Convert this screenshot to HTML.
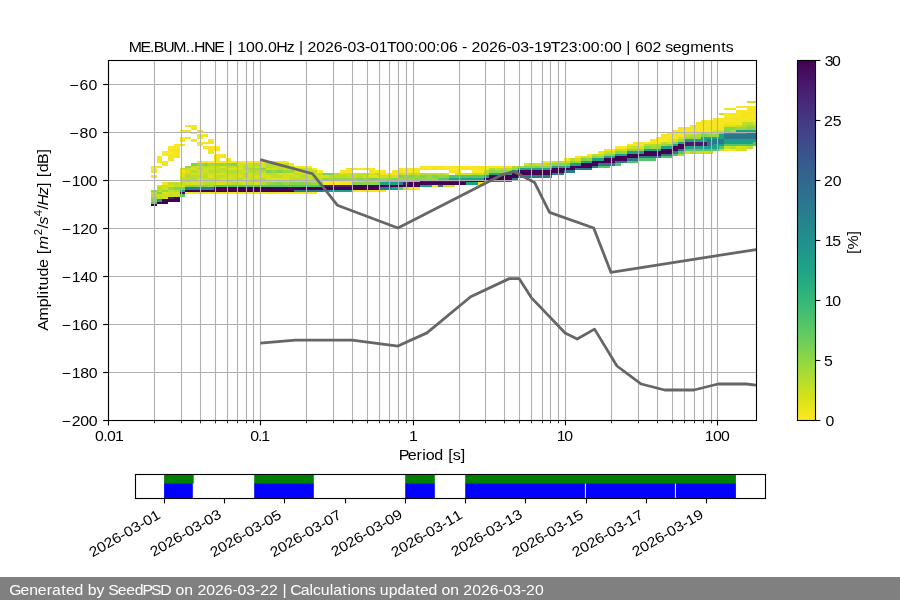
<!DOCTYPE html><html><head><meta charset="utf-8"><style>html,body{margin:0;padding:0;background:#fff;width:900px;height:600px;overflow:hidden}svg{display:block;will-change:transform}text{font-family:"Liberation Sans", sans-serif;fill:#000}</style></head><body>
<svg width="900" height="600" viewBox="0 0 900 600">
<rect x="0" y="0" width="900" height="600" fill="#fff"/>
<g shape-rendering="crispEdges">
<rect x="151" y="166" width="6" height="2" fill="#f8e621"/>
<rect x="151" y="168" width="6" height="2" fill="#fbe723"/>
<rect x="151" y="170" width="6" height="3" fill="#f4e61e"/>
<rect x="151" y="175" width="6" height="3" fill="#f6e620"/>
<rect x="151" y="190" width="6" height="2" fill="#8ed645"/>
<rect x="151" y="192" width="6" height="2" fill="#c0df25"/>
<rect x="151" y="194" width="6" height="3" fill="#bddf26"/>
<rect x="151" y="197" width="6" height="2" fill="#98d83e"/>
<rect x="151" y="199" width="6" height="3" fill="#86d549"/>
<rect x="151" y="202" width="6" height="2" fill="#54c568"/>
<rect x="151" y="204" width="6" height="2" fill="#440154"/>
<rect x="157" y="156" width="5" height="2" fill="#f6e620"/>
<rect x="157" y="158" width="5" height="3" fill="#f4e61e"/>
<rect x="157" y="161" width="5" height="2" fill="#f4e61e"/>
<rect x="157" y="166" width="5" height="2" fill="#f8e621"/>
<rect x="157" y="185" width="5" height="2" fill="#cde11d"/>
<rect x="157" y="187" width="5" height="3" fill="#bade28"/>
<rect x="157" y="190" width="5" height="2" fill="#c2df23"/>
<rect x="157" y="192" width="5" height="2" fill="#7fd34e"/>
<rect x="157" y="194" width="5" height="3" fill="#c8e020"/>
<rect x="157" y="197" width="5" height="2" fill="#c0df25"/>
<rect x="157" y="199" width="5" height="3" fill="#1fa188"/>
<rect x="157" y="202" width="5" height="2" fill="#440154"/>
<rect x="162" y="151" width="6" height="3" fill="#fbe723"/>
<rect x="162" y="154" width="6" height="2" fill="#fbe723"/>
<rect x="162" y="161" width="6" height="2" fill="#f4e61e"/>
<rect x="162" y="163" width="6" height="3" fill="#f1e51d"/>
<rect x="162" y="182" width="6" height="3" fill="#f4e61e"/>
<rect x="162" y="185" width="6" height="2" fill="#cde11d"/>
<rect x="162" y="187" width="6" height="3" fill="#cae11f"/>
<rect x="162" y="190" width="6" height="2" fill="#98d83e"/>
<rect x="162" y="192" width="6" height="2" fill="#dae319"/>
<rect x="162" y="194" width="6" height="3" fill="#cde11d"/>
<rect x="162" y="197" width="6" height="2" fill="#d8e219"/>
<rect x="162" y="199" width="6" height="3" fill="#440154"/>
<rect x="162" y="202" width="6" height="2" fill="#440154"/>
<rect x="168" y="146" width="6" height="3" fill="#fbe723"/>
<rect x="168" y="149" width="6" height="2" fill="#f6e620"/>
<rect x="168" y="151" width="6" height="3" fill="#fbe723"/>
<rect x="168" y="154" width="6" height="2" fill="#f6e620"/>
<rect x="168" y="156" width="6" height="2" fill="#f6e620"/>
<rect x="168" y="158" width="6" height="3" fill="#f1e51d"/>
<rect x="168" y="182" width="6" height="3" fill="#c8e020"/>
<rect x="168" y="185" width="6" height="2" fill="#d5e21a"/>
<rect x="168" y="187" width="6" height="3" fill="#95d840"/>
<rect x="168" y="190" width="6" height="2" fill="#c0df25"/>
<rect x="168" y="192" width="6" height="2" fill="#d5e21a"/>
<rect x="168" y="194" width="6" height="3" fill="#cae11f"/>
<rect x="168" y="197" width="6" height="2" fill="#481a6c"/>
<rect x="168" y="199" width="6" height="3" fill="#440154"/>
<rect x="174" y="144" width="6" height="2" fill="#fbe723"/>
<rect x="174" y="146" width="6" height="3" fill="#fbe723"/>
<rect x="174" y="149" width="6" height="2" fill="#f1e51d"/>
<rect x="174" y="151" width="6" height="3" fill="#f1e51d"/>
<rect x="174" y="154" width="6" height="2" fill="#f8e621"/>
<rect x="174" y="156" width="6" height="2" fill="#f1e51d"/>
<rect x="174" y="182" width="6" height="3" fill="#bddf26"/>
<rect x="174" y="185" width="6" height="2" fill="#c2df23"/>
<rect x="174" y="187" width="6" height="3" fill="#81d34d"/>
<rect x="174" y="190" width="6" height="2" fill="#b2dd2d"/>
<rect x="174" y="192" width="6" height="2" fill="#d2e21b"/>
<rect x="174" y="194" width="6" height="3" fill="#c8e020"/>
<rect x="174" y="197" width="6" height="2" fill="#440154"/>
<rect x="174" y="199" width="6" height="3" fill="#440154"/>
<rect x="180" y="130" width="5" height="2" fill="#f1e51d"/>
<rect x="180" y="137" width="5" height="2" fill="#fbe723"/>
<rect x="180" y="139" width="5" height="3" fill="#f6e620"/>
<rect x="180" y="144" width="5" height="2" fill="#f4e61e"/>
<rect x="180" y="168" width="5" height="2" fill="#c8e020"/>
<rect x="180" y="170" width="5" height="3" fill="#f6e620"/>
<rect x="180" y="173" width="5" height="2" fill="#dde318"/>
<rect x="180" y="175" width="5" height="3" fill="#dde318"/>
<rect x="180" y="178" width="5" height="2" fill="#c2df23"/>
<rect x="180" y="180" width="5" height="2" fill="#d2e21b"/>
<rect x="180" y="182" width="5" height="3" fill="#c8e020"/>
<rect x="180" y="185" width="5" height="2" fill="#d5e21a"/>
<rect x="180" y="187" width="5" height="3" fill="#81d34d"/>
<rect x="180" y="190" width="5" height="2" fill="#1fa188"/>
<rect x="180" y="192" width="5" height="2" fill="#440154"/>
<rect x="180" y="194" width="5" height="3" fill="#54c568"/>
<rect x="185" y="125" width="6" height="2" fill="#f1e51d"/>
<rect x="185" y="130" width="6" height="2" fill="#f6e620"/>
<rect x="185" y="137" width="6" height="2" fill="#f1e51d"/>
<rect x="185" y="166" width="6" height="2" fill="#90d743"/>
<rect x="185" y="168" width="6" height="2" fill="#c8e020"/>
<rect x="185" y="170" width="6" height="3" fill="#d8e219"/>
<rect x="185" y="173" width="6" height="2" fill="#c2df23"/>
<rect x="185" y="175" width="6" height="3" fill="#b0dd2f"/>
<rect x="185" y="178" width="6" height="2" fill="#c2df23"/>
<rect x="185" y="180" width="6" height="2" fill="#b5de2b"/>
<rect x="185" y="182" width="6" height="3" fill="#d8e219"/>
<rect x="185" y="185" width="6" height="2" fill="#89d548"/>
<rect x="185" y="187" width="6" height="3" fill="#27808e"/>
<rect x="185" y="190" width="6" height="2" fill="#440154"/>
<rect x="185" y="192" width="6" height="2" fill="#f8e621"/>
<rect x="191" y="125" width="6" height="2" fill="#f6e620"/>
<rect x="191" y="127" width="6" height="3" fill="#f4e61e"/>
<rect x="191" y="132" width="6" height="2" fill="#fbe723"/>
<rect x="191" y="139" width="6" height="3" fill="#f6e620"/>
<rect x="191" y="163" width="6" height="3" fill="#7cd250"/>
<rect x="191" y="166" width="6" height="2" fill="#cde11d"/>
<rect x="191" y="168" width="6" height="2" fill="#dae319"/>
<rect x="191" y="170" width="6" height="3" fill="#b8de29"/>
<rect x="191" y="173" width="6" height="2" fill="#d0e11c"/>
<rect x="191" y="175" width="6" height="3" fill="#b8de29"/>
<rect x="191" y="178" width="6" height="2" fill="#b5de2b"/>
<rect x="191" y="180" width="6" height="2" fill="#c8e020"/>
<rect x="191" y="182" width="6" height="3" fill="#dae319"/>
<rect x="191" y="185" width="6" height="2" fill="#89d548"/>
<rect x="191" y="187" width="6" height="3" fill="#27808e"/>
<rect x="191" y="190" width="6" height="2" fill="#440154"/>
<rect x="191" y="192" width="6" height="2" fill="#f4e61e"/>
<rect x="197" y="130" width="6" height="2" fill="#f1e51d"/>
<rect x="197" y="134" width="6" height="3" fill="#f4e61e"/>
<rect x="197" y="137" width="6" height="2" fill="#f4e61e"/>
<rect x="197" y="142" width="6" height="2" fill="#f4e61e"/>
<rect x="197" y="144" width="6" height="2" fill="#fbe723"/>
<rect x="197" y="161" width="6" height="2" fill="#f4e61e"/>
<rect x="197" y="163" width="6" height="3" fill="#9bd93c"/>
<rect x="197" y="166" width="6" height="2" fill="#c8e020"/>
<rect x="197" y="168" width="6" height="2" fill="#b2dd2d"/>
<rect x="197" y="170" width="6" height="3" fill="#cae11f"/>
<rect x="197" y="173" width="6" height="2" fill="#d8e219"/>
<rect x="197" y="175" width="6" height="3" fill="#b8de29"/>
<rect x="197" y="178" width="6" height="2" fill="#d8e219"/>
<rect x="197" y="180" width="6" height="2" fill="#dde318"/>
<rect x="197" y="182" width="6" height="3" fill="#d8e219"/>
<rect x="197" y="185" width="6" height="2" fill="#98d83e"/>
<rect x="197" y="187" width="6" height="3" fill="#27808e"/>
<rect x="197" y="190" width="6" height="2" fill="#440154"/>
<rect x="197" y="192" width="6" height="2" fill="#f4e61e"/>
<rect x="203" y="134" width="5" height="3" fill="#f4e61e"/>
<rect x="203" y="142" width="5" height="2" fill="#f1e51d"/>
<rect x="203" y="146" width="5" height="3" fill="#f8e621"/>
<rect x="203" y="161" width="5" height="2" fill="#f6e620"/>
<rect x="203" y="163" width="5" height="3" fill="#7fd34e"/>
<rect x="203" y="166" width="5" height="2" fill="#b5de2b"/>
<rect x="203" y="168" width="5" height="2" fill="#d0e11c"/>
<rect x="203" y="170" width="5" height="3" fill="#cae11f"/>
<rect x="203" y="173" width="5" height="2" fill="#bddf26"/>
<rect x="203" y="175" width="5" height="3" fill="#bade28"/>
<rect x="203" y="178" width="5" height="2" fill="#c8e020"/>
<rect x="203" y="180" width="5" height="2" fill="#d8e219"/>
<rect x="203" y="182" width="5" height="3" fill="#b8de29"/>
<rect x="203" y="185" width="5" height="2" fill="#84d44b"/>
<rect x="203" y="187" width="5" height="3" fill="#27808e"/>
<rect x="203" y="190" width="5" height="2" fill="#440154"/>
<rect x="203" y="192" width="5" height="2" fill="#f4e61e"/>
<rect x="208" y="139" width="6" height="3" fill="#fbe723"/>
<rect x="208" y="142" width="6" height="2" fill="#f6e620"/>
<rect x="208" y="146" width="6" height="3" fill="#fbe723"/>
<rect x="208" y="149" width="6" height="2" fill="#f6e620"/>
<rect x="208" y="151" width="6" height="3" fill="#f4e61e"/>
<rect x="208" y="161" width="6" height="2" fill="#fbe723"/>
<rect x="208" y="163" width="6" height="3" fill="#a0da39"/>
<rect x="208" y="166" width="6" height="2" fill="#c0df25"/>
<rect x="208" y="168" width="6" height="2" fill="#cae11f"/>
<rect x="208" y="170" width="6" height="3" fill="#b8de29"/>
<rect x="208" y="173" width="6" height="2" fill="#d0e11c"/>
<rect x="208" y="175" width="6" height="3" fill="#dde318"/>
<rect x="208" y="178" width="6" height="2" fill="#c0df25"/>
<rect x="208" y="180" width="6" height="2" fill="#d2e21b"/>
<rect x="208" y="182" width="6" height="3" fill="#b5de2b"/>
<rect x="208" y="185" width="6" height="2" fill="#9dd93b"/>
<rect x="208" y="187" width="6" height="3" fill="#27808e"/>
<rect x="208" y="190" width="6" height="2" fill="#440154"/>
<rect x="208" y="192" width="6" height="2" fill="#f8e621"/>
<rect x="214" y="146" width="6" height="3" fill="#fbe723"/>
<rect x="214" y="149" width="6" height="2" fill="#f6e620"/>
<rect x="214" y="154" width="6" height="2" fill="#fbe723"/>
<rect x="214" y="156" width="6" height="2" fill="#f8e621"/>
<rect x="214" y="158" width="6" height="3" fill="#f8e621"/>
<rect x="214" y="161" width="6" height="2" fill="#f6e620"/>
<rect x="214" y="163" width="6" height="3" fill="#9dd93b"/>
<rect x="214" y="166" width="6" height="2" fill="#c8e020"/>
<rect x="214" y="168" width="6" height="2" fill="#c8e020"/>
<rect x="214" y="170" width="6" height="3" fill="#bade28"/>
<rect x="214" y="173" width="6" height="2" fill="#d5e21a"/>
<rect x="214" y="175" width="6" height="3" fill="#c5e021"/>
<rect x="214" y="178" width="6" height="2" fill="#c5e021"/>
<rect x="214" y="180" width="6" height="2" fill="#cae11f"/>
<rect x="214" y="182" width="6" height="3" fill="#d5e21a"/>
<rect x="214" y="185" width="6" height="2" fill="#54c568"/>
<rect x="214" y="187" width="6" height="3" fill="#440154"/>
<rect x="214" y="190" width="6" height="2" fill="#440154"/>
<rect x="214" y="192" width="6" height="2" fill="#f1e51d"/>
<rect x="220" y="154" width="6" height="2" fill="#fbe723"/>
<rect x="220" y="156" width="6" height="2" fill="#f1e51d"/>
<rect x="220" y="161" width="6" height="2" fill="#f4e61e"/>
<rect x="220" y="163" width="6" height="3" fill="#95d840"/>
<rect x="220" y="166" width="6" height="2" fill="#d5e21a"/>
<rect x="220" y="168" width="6" height="2" fill="#b2dd2d"/>
<rect x="220" y="170" width="6" height="3" fill="#c0df25"/>
<rect x="220" y="173" width="6" height="2" fill="#d5e21a"/>
<rect x="220" y="175" width="6" height="3" fill="#bddf26"/>
<rect x="220" y="178" width="6" height="2" fill="#d8e219"/>
<rect x="220" y="180" width="6" height="2" fill="#cde11d"/>
<rect x="220" y="182" width="6" height="3" fill="#d0e11c"/>
<rect x="220" y="185" width="6" height="2" fill="#54c568"/>
<rect x="220" y="187" width="6" height="3" fill="#440154"/>
<rect x="220" y="190" width="6" height="2" fill="#440154"/>
<rect x="220" y="192" width="6" height="2" fill="#f4e61e"/>
<rect x="226" y="158" width="5" height="3" fill="#f4e61e"/>
<rect x="226" y="161" width="5" height="2" fill="#f4e61e"/>
<rect x="226" y="163" width="5" height="3" fill="#93d741"/>
<rect x="226" y="166" width="5" height="2" fill="#bddf26"/>
<rect x="226" y="168" width="5" height="2" fill="#dae319"/>
<rect x="226" y="170" width="5" height="3" fill="#bade28"/>
<rect x="226" y="173" width="5" height="2" fill="#bddf26"/>
<rect x="226" y="175" width="5" height="3" fill="#d8e219"/>
<rect x="226" y="178" width="5" height="2" fill="#d0e11c"/>
<rect x="226" y="180" width="5" height="2" fill="#bade28"/>
<rect x="226" y="182" width="5" height="3" fill="#c5e021"/>
<rect x="226" y="185" width="5" height="2" fill="#54c568"/>
<rect x="226" y="187" width="5" height="3" fill="#440154"/>
<rect x="226" y="190" width="5" height="2" fill="#440154"/>
<rect x="226" y="192" width="5" height="2" fill="#f8e621"/>
<rect x="231" y="161" width="6" height="2" fill="#f4e61e"/>
<rect x="231" y="163" width="6" height="3" fill="#7fd34e"/>
<rect x="231" y="166" width="6" height="2" fill="#bddf26"/>
<rect x="231" y="168" width="6" height="2" fill="#dae319"/>
<rect x="231" y="170" width="6" height="3" fill="#b2dd2d"/>
<rect x="231" y="173" width="6" height="2" fill="#c8e020"/>
<rect x="231" y="175" width="6" height="3" fill="#cde11d"/>
<rect x="231" y="178" width="6" height="2" fill="#cae11f"/>
<rect x="231" y="180" width="6" height="2" fill="#cde11d"/>
<rect x="231" y="182" width="6" height="3" fill="#b2dd2d"/>
<rect x="231" y="185" width="6" height="2" fill="#54c568"/>
<rect x="231" y="187" width="6" height="3" fill="#440154"/>
<rect x="231" y="190" width="6" height="2" fill="#440154"/>
<rect x="231" y="192" width="6" height="2" fill="#f4e61e"/>
<rect x="237" y="161" width="6" height="2" fill="#f6e620"/>
<rect x="237" y="163" width="6" height="3" fill="#cde11d"/>
<rect x="237" y="166" width="6" height="2" fill="#cde11d"/>
<rect x="237" y="168" width="6" height="2" fill="#d8e219"/>
<rect x="237" y="170" width="6" height="3" fill="#c2df23"/>
<rect x="237" y="173" width="6" height="2" fill="#d0e11c"/>
<rect x="237" y="175" width="6" height="3" fill="#d8e219"/>
<rect x="237" y="178" width="6" height="2" fill="#b5de2b"/>
<rect x="237" y="180" width="6" height="2" fill="#d5e21a"/>
<rect x="237" y="182" width="6" height="3" fill="#c0df25"/>
<rect x="237" y="185" width="6" height="2" fill="#54c568"/>
<rect x="237" y="187" width="6" height="3" fill="#440154"/>
<rect x="237" y="190" width="6" height="2" fill="#440154"/>
<rect x="237" y="192" width="6" height="2" fill="#f1e51d"/>
<rect x="243" y="161" width="5" height="2" fill="#f8e621"/>
<rect x="243" y="163" width="5" height="3" fill="#cde11d"/>
<rect x="243" y="166" width="5" height="2" fill="#b2dd2d"/>
<rect x="243" y="168" width="5" height="2" fill="#bddf26"/>
<rect x="243" y="170" width="5" height="3" fill="#d2e21b"/>
<rect x="243" y="173" width="5" height="2" fill="#b8de29"/>
<rect x="243" y="175" width="5" height="3" fill="#bddf26"/>
<rect x="243" y="178" width="5" height="2" fill="#dae319"/>
<rect x="243" y="180" width="5" height="2" fill="#c5e021"/>
<rect x="243" y="182" width="5" height="3" fill="#d8e219"/>
<rect x="243" y="185" width="5" height="2" fill="#54c568"/>
<rect x="243" y="187" width="5" height="3" fill="#440154"/>
<rect x="243" y="190" width="5" height="2" fill="#440154"/>
<rect x="243" y="192" width="5" height="2" fill="#f4e61e"/>
<rect x="248" y="161" width="6" height="2" fill="#fbe723"/>
<rect x="248" y="163" width="6" height="3" fill="#c8e020"/>
<rect x="248" y="166" width="6" height="2" fill="#c5e021"/>
<rect x="248" y="168" width="6" height="2" fill="#a2da37"/>
<rect x="248" y="170" width="6" height="3" fill="#b2dd2d"/>
<rect x="248" y="173" width="6" height="2" fill="#d0e11c"/>
<rect x="248" y="175" width="6" height="3" fill="#cde11d"/>
<rect x="248" y="178" width="6" height="2" fill="#cae11f"/>
<rect x="248" y="180" width="6" height="2" fill="#b0dd2f"/>
<rect x="248" y="182" width="6" height="3" fill="#c2df23"/>
<rect x="248" y="185" width="6" height="2" fill="#54c568"/>
<rect x="248" y="187" width="6" height="3" fill="#440154"/>
<rect x="248" y="190" width="6" height="2" fill="#440154"/>
<rect x="248" y="192" width="6" height="2" fill="#fbe723"/>
<rect x="254" y="161" width="6" height="2" fill="#f1e51d"/>
<rect x="254" y="163" width="6" height="3" fill="#b0dd2f"/>
<rect x="254" y="166" width="6" height="2" fill="#cae11f"/>
<rect x="254" y="168" width="6" height="2" fill="#a0da39"/>
<rect x="254" y="170" width="6" height="3" fill="#b0dd2f"/>
<rect x="254" y="173" width="6" height="2" fill="#bddf26"/>
<rect x="254" y="175" width="6" height="3" fill="#d8e219"/>
<rect x="254" y="178" width="6" height="2" fill="#c2df23"/>
<rect x="254" y="180" width="6" height="2" fill="#b2dd2d"/>
<rect x="254" y="182" width="6" height="3" fill="#d5e21a"/>
<rect x="254" y="185" width="6" height="2" fill="#54c568"/>
<rect x="254" y="187" width="6" height="3" fill="#440154"/>
<rect x="254" y="190" width="6" height="2" fill="#440154"/>
<rect x="254" y="192" width="6" height="2" fill="#f6e620"/>
<rect x="260" y="161" width="6" height="2" fill="#f6e620"/>
<rect x="260" y="163" width="6" height="3" fill="#d5e21a"/>
<rect x="260" y="166" width="6" height="2" fill="#d2e21b"/>
<rect x="260" y="168" width="6" height="2" fill="#84d44b"/>
<rect x="260" y="170" width="6" height="3" fill="#b5de2b"/>
<rect x="260" y="173" width="6" height="2" fill="#dae319"/>
<rect x="260" y="175" width="6" height="3" fill="#d2e21b"/>
<rect x="260" y="178" width="6" height="2" fill="#b2dd2d"/>
<rect x="260" y="180" width="6" height="2" fill="#b2dd2d"/>
<rect x="260" y="182" width="6" height="3" fill="#bade28"/>
<rect x="260" y="185" width="6" height="2" fill="#54c568"/>
<rect x="260" y="187" width="6" height="3" fill="#440154"/>
<rect x="260" y="190" width="6" height="2" fill="#440154"/>
<rect x="260" y="192" width="6" height="2" fill="#fbe723"/>
<rect x="266" y="161" width="5" height="2" fill="#fbe723"/>
<rect x="266" y="163" width="5" height="3" fill="#b2dd2d"/>
<rect x="266" y="166" width="5" height="2" fill="#b2dd2d"/>
<rect x="266" y="168" width="5" height="2" fill="#d0e11c"/>
<rect x="266" y="170" width="5" height="3" fill="#7fd34e"/>
<rect x="266" y="173" width="5" height="2" fill="#bddf26"/>
<rect x="266" y="175" width="5" height="3" fill="#dae319"/>
<rect x="266" y="178" width="5" height="2" fill="#dae319"/>
<rect x="266" y="180" width="5" height="2" fill="#c8e020"/>
<rect x="266" y="182" width="5" height="3" fill="#98d83e"/>
<rect x="266" y="185" width="5" height="2" fill="#54c568"/>
<rect x="266" y="187" width="5" height="3" fill="#440154"/>
<rect x="266" y="190" width="5" height="2" fill="#440154"/>
<rect x="266" y="192" width="5" height="2" fill="#f1e51d"/>
<rect x="271" y="161" width="6" height="2" fill="#fbe723"/>
<rect x="271" y="163" width="6" height="3" fill="#b8de29"/>
<rect x="271" y="166" width="6" height="2" fill="#b8de29"/>
<rect x="271" y="168" width="6" height="2" fill="#cde11d"/>
<rect x="271" y="170" width="6" height="3" fill="#95d840"/>
<rect x="271" y="173" width="6" height="2" fill="#bade28"/>
<rect x="271" y="175" width="6" height="3" fill="#bddf26"/>
<rect x="271" y="178" width="6" height="2" fill="#dae319"/>
<rect x="271" y="180" width="6" height="2" fill="#d8e219"/>
<rect x="271" y="182" width="6" height="3" fill="#8bd646"/>
<rect x="271" y="185" width="6" height="2" fill="#54c568"/>
<rect x="271" y="187" width="6" height="3" fill="#440154"/>
<rect x="271" y="190" width="6" height="2" fill="#440154"/>
<rect x="271" y="192" width="6" height="2" fill="#f1e51d"/>
<rect x="277" y="161" width="6" height="2" fill="#f1e51d"/>
<rect x="277" y="163" width="6" height="3" fill="#d8e219"/>
<rect x="277" y="166" width="6" height="2" fill="#b8de29"/>
<rect x="277" y="168" width="6" height="2" fill="#b8de29"/>
<rect x="277" y="170" width="6" height="3" fill="#84d44b"/>
<rect x="277" y="173" width="6" height="2" fill="#dae319"/>
<rect x="277" y="175" width="6" height="3" fill="#c0df25"/>
<rect x="277" y="178" width="6" height="2" fill="#dae319"/>
<rect x="277" y="180" width="6" height="2" fill="#d0e11c"/>
<rect x="277" y="182" width="6" height="3" fill="#7fd34e"/>
<rect x="277" y="185" width="6" height="2" fill="#54c568"/>
<rect x="277" y="187" width="6" height="3" fill="#440154"/>
<rect x="277" y="190" width="6" height="2" fill="#440154"/>
<rect x="277" y="192" width="6" height="2" fill="#f8e621"/>
<rect x="283" y="161" width="6" height="2" fill="#f6e620"/>
<rect x="283" y="163" width="6" height="3" fill="#b8de29"/>
<rect x="283" y="166" width="6" height="2" fill="#dae319"/>
<rect x="283" y="168" width="6" height="2" fill="#cae11f"/>
<rect x="283" y="170" width="6" height="3" fill="#98d83e"/>
<rect x="283" y="173" width="6" height="2" fill="#d5e21a"/>
<rect x="283" y="175" width="6" height="3" fill="#d8e219"/>
<rect x="283" y="178" width="6" height="2" fill="#dde318"/>
<rect x="283" y="180" width="6" height="2" fill="#c8e020"/>
<rect x="283" y="182" width="6" height="3" fill="#98d83e"/>
<rect x="283" y="185" width="6" height="2" fill="#54c568"/>
<rect x="283" y="187" width="6" height="3" fill="#440154"/>
<rect x="283" y="190" width="6" height="2" fill="#440154"/>
<rect x="283" y="192" width="6" height="2" fill="#f8e621"/>
<rect x="289" y="163" width="5" height="3" fill="#f1e51d"/>
<rect x="289" y="166" width="5" height="2" fill="#c8e020"/>
<rect x="289" y="168" width="5" height="2" fill="#dae319"/>
<rect x="289" y="170" width="5" height="3" fill="#98d83e"/>
<rect x="289" y="173" width="5" height="2" fill="#dde318"/>
<rect x="289" y="175" width="5" height="3" fill="#c5e021"/>
<rect x="289" y="178" width="5" height="2" fill="#bddf26"/>
<rect x="289" y="180" width="5" height="2" fill="#b8de29"/>
<rect x="289" y="182" width="5" height="3" fill="#86d549"/>
<rect x="289" y="185" width="5" height="2" fill="#54c568"/>
<rect x="289" y="187" width="5" height="3" fill="#440154"/>
<rect x="289" y="190" width="5" height="2" fill="#440154"/>
<rect x="289" y="192" width="5" height="2" fill="#f6e620"/>
<rect x="294" y="166" width="6" height="2" fill="#f4e61e"/>
<rect x="294" y="168" width="6" height="2" fill="#b8de29"/>
<rect x="294" y="170" width="6" height="3" fill="#dae319"/>
<rect x="294" y="173" width="6" height="2" fill="#b8de29"/>
<rect x="294" y="175" width="6" height="3" fill="#d5e21a"/>
<rect x="294" y="178" width="6" height="2" fill="#bade28"/>
<rect x="294" y="180" width="6" height="2" fill="#dae319"/>
<rect x="294" y="182" width="6" height="3" fill="#86d549"/>
<rect x="294" y="185" width="6" height="2" fill="#54c568"/>
<rect x="294" y="187" width="6" height="3" fill="#440154"/>
<rect x="294" y="190" width="6" height="2" fill="#2a788e"/>
<rect x="294" y="192" width="6" height="2" fill="#f4e61e"/>
<rect x="300" y="166" width="6" height="2" fill="#f4e61e"/>
<rect x="300" y="168" width="6" height="2" fill="#c0df25"/>
<rect x="300" y="170" width="6" height="3" fill="#d5e21a"/>
<rect x="300" y="173" width="6" height="2" fill="#cae11f"/>
<rect x="300" y="175" width="6" height="3" fill="#b2dd2d"/>
<rect x="300" y="178" width="6" height="2" fill="#c5e021"/>
<rect x="300" y="180" width="6" height="2" fill="#c5e021"/>
<rect x="300" y="182" width="6" height="3" fill="#86d549"/>
<rect x="300" y="185" width="6" height="2" fill="#54c568"/>
<rect x="300" y="187" width="6" height="3" fill="#440154"/>
<rect x="300" y="190" width="6" height="2" fill="#2a788e"/>
<rect x="300" y="192" width="6" height="2" fill="#f6e620"/>
<rect x="306" y="166" width="6" height="2" fill="#fbe723"/>
<rect x="306" y="168" width="6" height="2" fill="#cde11d"/>
<rect x="306" y="170" width="6" height="3" fill="#b8de29"/>
<rect x="306" y="173" width="6" height="2" fill="#c0df25"/>
<rect x="306" y="175" width="6" height="3" fill="#c2df23"/>
<rect x="306" y="178" width="6" height="2" fill="#c8e020"/>
<rect x="306" y="180" width="6" height="2" fill="#c8e020"/>
<rect x="306" y="182" width="6" height="3" fill="#8bd646"/>
<rect x="306" y="185" width="6" height="2" fill="#54c568"/>
<rect x="306" y="187" width="6" height="3" fill="#440154"/>
<rect x="306" y="190" width="6" height="2" fill="#2a788e"/>
<rect x="306" y="192" width="6" height="2" fill="#f1e51d"/>
<rect x="312" y="168" width="5" height="2" fill="#f8e621"/>
<rect x="312" y="170" width="5" height="3" fill="#bddf26"/>
<rect x="312" y="173" width="5" height="2" fill="#cde11d"/>
<rect x="312" y="175" width="5" height="3" fill="#bddf26"/>
<rect x="312" y="178" width="5" height="2" fill="#b2dd2d"/>
<rect x="312" y="180" width="5" height="2" fill="#bade28"/>
<rect x="312" y="182" width="5" height="3" fill="#9dd93b"/>
<rect x="312" y="185" width="5" height="2" fill="#54c568"/>
<rect x="312" y="187" width="5" height="3" fill="#440154"/>
<rect x="312" y="190" width="5" height="2" fill="#2a788e"/>
<rect x="312" y="192" width="5" height="2" fill="#fbe723"/>
<rect x="317" y="170" width="6" height="3" fill="#fbe723"/>
<rect x="317" y="173" width="6" height="2" fill="#bddf26"/>
<rect x="317" y="175" width="6" height="3" fill="#d5e21a"/>
<rect x="317" y="178" width="6" height="2" fill="#bade28"/>
<rect x="317" y="180" width="6" height="2" fill="#c8e020"/>
<rect x="317" y="182" width="6" height="3" fill="#8bd646"/>
<rect x="317" y="185" width="6" height="2" fill="#54c568"/>
<rect x="317" y="187" width="6" height="3" fill="#440154"/>
<rect x="317" y="190" width="6" height="2" fill="#2a788e"/>
<rect x="323" y="173" width="6" height="2" fill="#7ad151"/>
<rect x="323" y="175" width="6" height="3" fill="#d5e21a"/>
<rect x="323" y="178" width="6" height="2" fill="#90d743"/>
<rect x="323" y="180" width="6" height="2" fill="#fbe723"/>
<rect x="323" y="182" width="6" height="3" fill="#f6e620"/>
<rect x="323" y="185" width="6" height="2" fill="#481a6c"/>
<rect x="323" y="187" width="6" height="3" fill="#440154"/>
<rect x="323" y="190" width="6" height="2" fill="#1fa188"/>
<rect x="329" y="173" width="5" height="2" fill="#7cd250"/>
<rect x="329" y="175" width="5" height="3" fill="#b5de2b"/>
<rect x="329" y="178" width="5" height="2" fill="#a0da39"/>
<rect x="329" y="180" width="5" height="2" fill="#f6e620"/>
<rect x="329" y="182" width="5" height="3" fill="#f6e620"/>
<rect x="329" y="185" width="5" height="2" fill="#481a6c"/>
<rect x="329" y="187" width="5" height="3" fill="#440154"/>
<rect x="329" y="190" width="5" height="2" fill="#1fa188"/>
<rect x="334" y="173" width="6" height="2" fill="#b8de29"/>
<rect x="334" y="175" width="6" height="3" fill="#bade28"/>
<rect x="334" y="178" width="6" height="2" fill="#93d741"/>
<rect x="334" y="180" width="6" height="2" fill="#f8e621"/>
<rect x="334" y="182" width="6" height="3" fill="#fbe723"/>
<rect x="334" y="185" width="6" height="2" fill="#481a6c"/>
<rect x="334" y="187" width="6" height="3" fill="#440154"/>
<rect x="334" y="190" width="6" height="2" fill="#1fa188"/>
<rect x="340" y="173" width="6" height="2" fill="#d5e21a"/>
<rect x="340" y="175" width="6" height="3" fill="#b2dd2d"/>
<rect x="340" y="178" width="6" height="2" fill="#98d83e"/>
<rect x="340" y="180" width="6" height="2" fill="#f4e61e"/>
<rect x="340" y="182" width="6" height="3" fill="#f1e51d"/>
<rect x="340" y="185" width="6" height="2" fill="#481a6c"/>
<rect x="340" y="187" width="6" height="3" fill="#440154"/>
<rect x="340" y="190" width="6" height="2" fill="#1fa188"/>
<rect x="340" y="170" width="6" height="3" fill="#f8e621"/>
<rect x="346" y="173" width="6" height="2" fill="#c8e020"/>
<rect x="346" y="175" width="6" height="3" fill="#bddf26"/>
<rect x="346" y="178" width="6" height="2" fill="#95d840"/>
<rect x="346" y="180" width="6" height="2" fill="#f6e620"/>
<rect x="346" y="182" width="6" height="3" fill="#f1e51d"/>
<rect x="346" y="185" width="6" height="2" fill="#481a6c"/>
<rect x="346" y="187" width="6" height="3" fill="#440154"/>
<rect x="346" y="190" width="6" height="2" fill="#1fa188"/>
<rect x="346" y="170" width="6" height="3" fill="#fbe723"/>
<rect x="346" y="168" width="6" height="2" fill="#f1e51d"/>
<rect x="352" y="173" width="5" height="2" fill="#cae11f"/>
<rect x="352" y="175" width="5" height="3" fill="#c2df23"/>
<rect x="352" y="178" width="5" height="2" fill="#98d83e"/>
<rect x="352" y="180" width="5" height="2" fill="#dde318"/>
<rect x="352" y="182" width="5" height="3" fill="#81d34d"/>
<rect x="352" y="185" width="5" height="2" fill="#440154"/>
<rect x="352" y="187" width="5" height="3" fill="#440154"/>
<rect x="352" y="190" width="5" height="2" fill="#f8e621"/>
<rect x="352" y="168" width="5" height="2" fill="#f4e61e"/>
<rect x="357" y="173" width="6" height="2" fill="#c5e021"/>
<rect x="357" y="175" width="6" height="3" fill="#b5de2b"/>
<rect x="357" y="178" width="6" height="2" fill="#81d34d"/>
<rect x="357" y="180" width="6" height="2" fill="#d0e11c"/>
<rect x="357" y="182" width="6" height="3" fill="#84d44b"/>
<rect x="357" y="185" width="6" height="2" fill="#440154"/>
<rect x="357" y="187" width="6" height="3" fill="#440154"/>
<rect x="357" y="190" width="6" height="2" fill="#fbe723"/>
<rect x="357" y="168" width="6" height="2" fill="#f8e621"/>
<rect x="363" y="173" width="6" height="2" fill="#b8de29"/>
<rect x="363" y="175" width="6" height="3" fill="#c8e020"/>
<rect x="363" y="178" width="6" height="2" fill="#98d83e"/>
<rect x="363" y="180" width="6" height="2" fill="#b2dd2d"/>
<rect x="363" y="182" width="6" height="3" fill="#89d548"/>
<rect x="363" y="185" width="6" height="2" fill="#440154"/>
<rect x="363" y="187" width="6" height="3" fill="#440154"/>
<rect x="363" y="190" width="6" height="2" fill="#f6e620"/>
<rect x="363" y="168" width="6" height="2" fill="#f1e51d"/>
<rect x="369" y="173" width="6" height="2" fill="#d8e219"/>
<rect x="369" y="175" width="6" height="3" fill="#dde318"/>
<rect x="369" y="178" width="6" height="2" fill="#7cd250"/>
<rect x="369" y="180" width="6" height="2" fill="#b5de2b"/>
<rect x="369" y="182" width="6" height="3" fill="#8ed645"/>
<rect x="369" y="185" width="6" height="2" fill="#440154"/>
<rect x="369" y="187" width="6" height="3" fill="#440154"/>
<rect x="369" y="190" width="6" height="2" fill="#f8e621"/>
<rect x="369" y="168" width="6" height="2" fill="#f6e620"/>
<rect x="369" y="170" width="6" height="3" fill="#f6e620"/>
<rect x="375" y="173" width="5" height="2" fill="#bade28"/>
<rect x="375" y="175" width="5" height="3" fill="#dae319"/>
<rect x="375" y="178" width="5" height="2" fill="#7fd34e"/>
<rect x="375" y="180" width="5" height="2" fill="#c0df25"/>
<rect x="375" y="182" width="5" height="3" fill="#89d548"/>
<rect x="375" y="185" width="5" height="2" fill="#440154"/>
<rect x="375" y="187" width="5" height="3" fill="#440154"/>
<rect x="375" y="190" width="5" height="2" fill="#f8e621"/>
<rect x="375" y="170" width="5" height="3" fill="#f6e620"/>
<rect x="380" y="170" width="6" height="3" fill="#f8e621"/>
<rect x="380" y="173" width="6" height="2" fill="#f4e61e"/>
<rect x="380" y="175" width="6" height="3" fill="#cde11d"/>
<rect x="380" y="178" width="6" height="2" fill="#9dd93b"/>
<rect x="380" y="180" width="6" height="2" fill="#9dd93b"/>
<rect x="380" y="182" width="6" height="3" fill="#1fa188"/>
<rect x="380" y="185" width="6" height="2" fill="#440154"/>
<rect x="380" y="187" width="6" height="3" fill="#2a788e"/>
<rect x="380" y="190" width="6" height="2" fill="#f8e621"/>
<rect x="386" y="173" width="6" height="2" fill="#f4e61e"/>
<rect x="386" y="175" width="6" height="3" fill="#c8e020"/>
<rect x="386" y="178" width="6" height="2" fill="#98d83e"/>
<rect x="386" y="180" width="6" height="2" fill="#7fd34e"/>
<rect x="386" y="182" width="6" height="3" fill="#1fa188"/>
<rect x="386" y="185" width="6" height="2" fill="#440154"/>
<rect x="386" y="187" width="6" height="3" fill="#2a788e"/>
<rect x="392" y="170" width="6" height="3" fill="#f6e620"/>
<rect x="392" y="173" width="6" height="2" fill="#f4e61e"/>
<rect x="392" y="175" width="6" height="3" fill="#d5e21a"/>
<rect x="392" y="178" width="6" height="2" fill="#86d549"/>
<rect x="392" y="180" width="6" height="2" fill="#7fd34e"/>
<rect x="392" y="182" width="6" height="3" fill="#1fa188"/>
<rect x="392" y="185" width="6" height="2" fill="#440154"/>
<rect x="392" y="187" width="6" height="3" fill="#1fa188"/>
<rect x="398" y="168" width="5" height="2" fill="#f6e620"/>
<rect x="398" y="170" width="5" height="3" fill="#f4e61e"/>
<rect x="398" y="173" width="5" height="2" fill="#c5e021"/>
<rect x="398" y="175" width="5" height="3" fill="#81d34d"/>
<rect x="398" y="178" width="5" height="2" fill="#9bd93c"/>
<rect x="398" y="180" width="5" height="2" fill="#98d83e"/>
<rect x="398" y="182" width="5" height="3" fill="#2a788e"/>
<rect x="398" y="185" width="5" height="2" fill="#440154"/>
<rect x="398" y="187" width="5" height="3" fill="#54c568"/>
<rect x="403" y="168" width="6" height="2" fill="#fbe723"/>
<rect x="403" y="170" width="6" height="3" fill="#f8e621"/>
<rect x="403" y="173" width="6" height="2" fill="#d8e219"/>
<rect x="403" y="175" width="6" height="3" fill="#90d743"/>
<rect x="403" y="178" width="6" height="2" fill="#90d743"/>
<rect x="403" y="180" width="6" height="2" fill="#9bd93c"/>
<rect x="403" y="182" width="6" height="3" fill="#481a6c"/>
<rect x="403" y="185" width="6" height="2" fill="#440154"/>
<rect x="403" y="187" width="6" height="3" fill="#d0e11c"/>
<rect x="409" y="168" width="6" height="2" fill="#f4e61e"/>
<rect x="409" y="170" width="6" height="3" fill="#fbe723"/>
<rect x="409" y="173" width="6" height="2" fill="#bade28"/>
<rect x="409" y="175" width="6" height="3" fill="#86d549"/>
<rect x="409" y="178" width="6" height="2" fill="#9bd93c"/>
<rect x="409" y="180" width="6" height="2" fill="#8ed645"/>
<rect x="409" y="182" width="6" height="3" fill="#440154"/>
<rect x="409" y="185" width="6" height="2" fill="#440154"/>
<rect x="409" y="187" width="6" height="3" fill="#f6e620"/>
<rect x="415" y="168" width="5" height="2" fill="#f6e620"/>
<rect x="415" y="170" width="5" height="3" fill="#f1e51d"/>
<rect x="415" y="173" width="5" height="2" fill="#c5e021"/>
<rect x="415" y="175" width="5" height="3" fill="#98d83e"/>
<rect x="415" y="178" width="5" height="2" fill="#89d548"/>
<rect x="415" y="180" width="5" height="2" fill="#8ed645"/>
<rect x="415" y="182" width="5" height="3" fill="#440154"/>
<rect x="415" y="185" width="5" height="2" fill="#440154"/>
<rect x="415" y="187" width="5" height="3" fill="#f8e621"/>
<rect x="420" y="166" width="6" height="2" fill="#f6e620"/>
<rect x="420" y="168" width="6" height="2" fill="#f4e61e"/>
<rect x="420" y="173" width="6" height="2" fill="#b2dd2d"/>
<rect x="420" y="175" width="6" height="3" fill="#7fd34e"/>
<rect x="420" y="178" width="6" height="2" fill="#98d83e"/>
<rect x="420" y="180" width="6" height="2" fill="#481a6c"/>
<rect x="420" y="182" width="6" height="3" fill="#440154"/>
<rect x="420" y="185" width="6" height="2" fill="#1fa188"/>
<rect x="426" y="166" width="6" height="2" fill="#fbe723"/>
<rect x="426" y="168" width="6" height="2" fill="#f8e621"/>
<rect x="426" y="173" width="6" height="2" fill="#b0dd2f"/>
<rect x="426" y="175" width="6" height="3" fill="#95d840"/>
<rect x="426" y="178" width="6" height="2" fill="#95d840"/>
<rect x="426" y="180" width="6" height="2" fill="#481a6c"/>
<rect x="426" y="182" width="6" height="3" fill="#440154"/>
<rect x="426" y="185" width="6" height="2" fill="#1fa188"/>
<rect x="432" y="166" width="6" height="2" fill="#f4e61e"/>
<rect x="432" y="168" width="6" height="2" fill="#f1e51d"/>
<rect x="432" y="173" width="6" height="2" fill="#b8de29"/>
<rect x="432" y="175" width="6" height="3" fill="#7fd34e"/>
<rect x="432" y="178" width="6" height="2" fill="#95d840"/>
<rect x="432" y="180" width="6" height="2" fill="#481a6c"/>
<rect x="432" y="182" width="6" height="3" fill="#440154"/>
<rect x="432" y="185" width="6" height="2" fill="#f1e51d"/>
<rect x="438" y="166" width="5" height="2" fill="#f1e51d"/>
<rect x="438" y="168" width="5" height="2" fill="#f8e621"/>
<rect x="438" y="173" width="5" height="2" fill="#b5de2b"/>
<rect x="438" y="175" width="5" height="3" fill="#93d741"/>
<rect x="438" y="178" width="5" height="2" fill="#54c568"/>
<rect x="438" y="180" width="5" height="2" fill="#481a6c"/>
<rect x="438" y="182" width="5" height="3" fill="#440154"/>
<rect x="438" y="185" width="5" height="2" fill="#2a788e"/>
<rect x="443" y="166" width="6" height="2" fill="#fbe723"/>
<rect x="443" y="168" width="6" height="2" fill="#f8e621"/>
<rect x="443" y="173" width="6" height="2" fill="#cde11d"/>
<rect x="443" y="175" width="6" height="3" fill="#8bd646"/>
<rect x="443" y="178" width="6" height="2" fill="#54c568"/>
<rect x="443" y="180" width="6" height="2" fill="#481a6c"/>
<rect x="443" y="182" width="6" height="3" fill="#440154"/>
<rect x="443" y="185" width="6" height="2" fill="#cae11f"/>
<rect x="449" y="166" width="6" height="2" fill="#fbe723"/>
<rect x="449" y="168" width="6" height="2" fill="#fbe723"/>
<rect x="449" y="170" width="6" height="3" fill="#f6e620"/>
<rect x="449" y="175" width="6" height="3" fill="#54c568"/>
<rect x="449" y="178" width="6" height="2" fill="#1fa188"/>
<rect x="449" y="180" width="6" height="2" fill="#481a6c"/>
<rect x="449" y="182" width="6" height="3" fill="#440154"/>
<rect x="449" y="185" width="6" height="2" fill="#cde11d"/>
<rect x="455" y="166" width="6" height="2" fill="#f1e51d"/>
<rect x="455" y="168" width="6" height="2" fill="#fbe723"/>
<rect x="455" y="170" width="6" height="3" fill="#f4e61e"/>
<rect x="455" y="173" width="6" height="2" fill="#d5e21a"/>
<rect x="455" y="175" width="6" height="3" fill="#54c568"/>
<rect x="455" y="178" width="6" height="2" fill="#1fa188"/>
<rect x="455" y="180" width="6" height="2" fill="#481a6c"/>
<rect x="455" y="182" width="6" height="3" fill="#440154"/>
<rect x="461" y="166" width="5" height="2" fill="#f4e61e"/>
<rect x="461" y="168" width="5" height="2" fill="#f6e620"/>
<rect x="461" y="173" width="5" height="2" fill="#d8e219"/>
<rect x="461" y="175" width="5" height="3" fill="#54c568"/>
<rect x="461" y="178" width="5" height="2" fill="#1fa188"/>
<rect x="461" y="180" width="5" height="2" fill="#481a6c"/>
<rect x="461" y="182" width="5" height="3" fill="#440154"/>
<rect x="466" y="166" width="6" height="2" fill="#fbe723"/>
<rect x="466" y="168" width="6" height="2" fill="#f8e621"/>
<rect x="466" y="173" width="6" height="2" fill="#d0e11c"/>
<rect x="466" y="175" width="6" height="3" fill="#54c568"/>
<rect x="466" y="178" width="6" height="2" fill="#1fa188"/>
<rect x="466" y="180" width="6" height="2" fill="#440154"/>
<rect x="466" y="182" width="6" height="3" fill="#1fa188"/>
<rect x="472" y="166" width="6" height="2" fill="#f6e620"/>
<rect x="472" y="168" width="6" height="2" fill="#fbe723"/>
<rect x="472" y="170" width="6" height="3" fill="#fbe723"/>
<rect x="472" y="173" width="6" height="2" fill="#b5de2b"/>
<rect x="472" y="175" width="6" height="3" fill="#54c568"/>
<rect x="472" y="178" width="6" height="2" fill="#1fa188"/>
<rect x="472" y="180" width="6" height="2" fill="#440154"/>
<rect x="472" y="182" width="6" height="3" fill="#1fa188"/>
<rect x="478" y="166" width="6" height="2" fill="#f4e61e"/>
<rect x="478" y="168" width="6" height="2" fill="#f4e61e"/>
<rect x="478" y="170" width="6" height="3" fill="#f8e621"/>
<rect x="478" y="173" width="6" height="2" fill="#c8e020"/>
<rect x="478" y="175" width="6" height="3" fill="#54c568"/>
<rect x="478" y="178" width="6" height="2" fill="#1fa188"/>
<rect x="478" y="180" width="6" height="2" fill="#440154"/>
<rect x="478" y="182" width="6" height="3" fill="#f1e51d"/>
<rect x="484" y="166" width="5" height="2" fill="#fbe723"/>
<rect x="484" y="168" width="5" height="2" fill="#fbe723"/>
<rect x="484" y="170" width="5" height="3" fill="#b0dd2f"/>
<rect x="484" y="173" width="5" height="2" fill="#95d840"/>
<rect x="484" y="175" width="5" height="3" fill="#1fa188"/>
<rect x="484" y="178" width="5" height="2" fill="#440154"/>
<rect x="484" y="180" width="5" height="2" fill="#2a788e"/>
<rect x="489" y="166" width="6" height="2" fill="#f8e621"/>
<rect x="489" y="168" width="6" height="2" fill="#b0dd2f"/>
<rect x="489" y="170" width="6" height="3" fill="#8bd646"/>
<rect x="489" y="173" width="6" height="2" fill="#1fa188"/>
<rect x="489" y="175" width="6" height="3" fill="#440154"/>
<rect x="489" y="178" width="6" height="2" fill="#440154"/>
<rect x="489" y="180" width="6" height="2" fill="#2a788e"/>
<rect x="495" y="166" width="6" height="2" fill="#f6e620"/>
<rect x="495" y="168" width="6" height="2" fill="#c8e020"/>
<rect x="495" y="170" width="6" height="3" fill="#8ed645"/>
<rect x="495" y="173" width="6" height="2" fill="#1fa188"/>
<rect x="495" y="175" width="6" height="3" fill="#440154"/>
<rect x="495" y="178" width="6" height="2" fill="#440154"/>
<rect x="495" y="180" width="6" height="2" fill="#2a788e"/>
<rect x="501" y="166" width="5" height="2" fill="#f8e621"/>
<rect x="501" y="168" width="5" height="2" fill="#bade28"/>
<rect x="501" y="170" width="5" height="3" fill="#89d548"/>
<rect x="501" y="173" width="5" height="2" fill="#1fa188"/>
<rect x="501" y="175" width="5" height="3" fill="#440154"/>
<rect x="501" y="178" width="5" height="2" fill="#440154"/>
<rect x="501" y="180" width="5" height="2" fill="#2a788e"/>
<rect x="506" y="166" width="6" height="2" fill="#f8e621"/>
<rect x="506" y="168" width="6" height="2" fill="#c0df25"/>
<rect x="506" y="170" width="6" height="3" fill="#93d741"/>
<rect x="506" y="173" width="6" height="2" fill="#1fa188"/>
<rect x="506" y="175" width="6" height="3" fill="#440154"/>
<rect x="506" y="178" width="6" height="2" fill="#440154"/>
<rect x="506" y="180" width="6" height="2" fill="#2a788e"/>
<rect x="512" y="166" width="6" height="2" fill="#b0dd2f"/>
<rect x="512" y="168" width="6" height="2" fill="#9bd93c"/>
<rect x="512" y="170" width="6" height="3" fill="#1fa188"/>
<rect x="512" y="173" width="6" height="2" fill="#440154"/>
<rect x="512" y="175" width="6" height="3" fill="#440154"/>
<rect x="512" y="178" width="6" height="2" fill="#2a788e"/>
<rect x="518" y="166" width="6" height="2" fill="#a0da39"/>
<rect x="518" y="168" width="6" height="2" fill="#1fa188"/>
<rect x="518" y="170" width="6" height="3" fill="#440154"/>
<rect x="518" y="173" width="6" height="2" fill="#440154"/>
<rect x="518" y="175" width="6" height="3" fill="#2a788e"/>
<rect x="524" y="163" width="5" height="3" fill="#d5e21a"/>
<rect x="524" y="166" width="5" height="2" fill="#89d548"/>
<rect x="524" y="168" width="5" height="2" fill="#1fa188"/>
<rect x="524" y="170" width="5" height="3" fill="#440154"/>
<rect x="524" y="173" width="5" height="2" fill="#440154"/>
<rect x="524" y="175" width="5" height="3" fill="#2a788e"/>
<rect x="529" y="163" width="6" height="3" fill="#b8de29"/>
<rect x="529" y="166" width="6" height="2" fill="#8ed645"/>
<rect x="529" y="168" width="6" height="2" fill="#1fa188"/>
<rect x="529" y="170" width="6" height="3" fill="#440154"/>
<rect x="529" y="173" width="6" height="2" fill="#440154"/>
<rect x="529" y="175" width="6" height="3" fill="#2a788e"/>
<rect x="535" y="163" width="6" height="3" fill="#c5e021"/>
<rect x="535" y="166" width="6" height="2" fill="#7cd250"/>
<rect x="535" y="168" width="6" height="2" fill="#1fa188"/>
<rect x="535" y="170" width="6" height="3" fill="#440154"/>
<rect x="535" y="173" width="6" height="2" fill="#440154"/>
<rect x="535" y="175" width="6" height="3" fill="#2a788e"/>
<rect x="541" y="161" width="6" height="2" fill="#f1e51d"/>
<rect x="541" y="163" width="6" height="3" fill="#c5e021"/>
<rect x="541" y="166" width="6" height="2" fill="#90d743"/>
<rect x="541" y="168" width="6" height="2" fill="#1fa188"/>
<rect x="541" y="170" width="6" height="3" fill="#440154"/>
<rect x="541" y="173" width="6" height="2" fill="#440154"/>
<rect x="541" y="175" width="6" height="3" fill="#2a788e"/>
<rect x="547" y="161" width="5" height="2" fill="#f4e61e"/>
<rect x="547" y="163" width="5" height="3" fill="#b5de2b"/>
<rect x="547" y="166" width="5" height="2" fill="#89d548"/>
<rect x="547" y="168" width="5" height="2" fill="#1fa188"/>
<rect x="547" y="170" width="5" height="3" fill="#440154"/>
<rect x="547" y="173" width="5" height="2" fill="#440154"/>
<rect x="547" y="175" width="5" height="3" fill="#2a788e"/>
<rect x="552" y="161" width="6" height="2" fill="#cde11d"/>
<rect x="552" y="163" width="6" height="3" fill="#8bd646"/>
<rect x="552" y="166" width="6" height="2" fill="#1fa188"/>
<rect x="552" y="168" width="6" height="2" fill="#440154"/>
<rect x="552" y="170" width="6" height="3" fill="#440154"/>
<rect x="552" y="173" width="6" height="2" fill="#2a788e"/>
<rect x="558" y="161" width="6" height="2" fill="#b8de29"/>
<rect x="558" y="163" width="6" height="3" fill="#8bd646"/>
<rect x="558" y="166" width="6" height="2" fill="#1fa188"/>
<rect x="558" y="168" width="6" height="2" fill="#440154"/>
<rect x="558" y="170" width="6" height="3" fill="#440154"/>
<rect x="558" y="173" width="6" height="2" fill="#2a788e"/>
<rect x="564" y="158" width="6" height="3" fill="#f6e620"/>
<rect x="564" y="161" width="6" height="2" fill="#c2df23"/>
<rect x="564" y="163" width="6" height="3" fill="#7fd34e"/>
<rect x="564" y="166" width="6" height="2" fill="#1fa188"/>
<rect x="564" y="168" width="6" height="2" fill="#440154"/>
<rect x="564" y="170" width="6" height="3" fill="#2a788e"/>
<rect x="570" y="158" width="5" height="3" fill="#bade28"/>
<rect x="570" y="161" width="5" height="2" fill="#84d44b"/>
<rect x="570" y="163" width="5" height="3" fill="#1fa188"/>
<rect x="570" y="166" width="5" height="2" fill="#440154"/>
<rect x="570" y="168" width="5" height="2" fill="#440154"/>
<rect x="570" y="170" width="5" height="3" fill="#2a788e"/>
<rect x="575" y="156" width="6" height="2" fill="#f8e621"/>
<rect x="575" y="158" width="6" height="3" fill="#d8e219"/>
<rect x="575" y="161" width="6" height="2" fill="#9dd93b"/>
<rect x="575" y="163" width="6" height="3" fill="#1fa188"/>
<rect x="575" y="166" width="6" height="2" fill="#440154"/>
<rect x="575" y="168" width="6" height="2" fill="#2a788e"/>
<rect x="581" y="156" width="6" height="2" fill="#d2e21b"/>
<rect x="581" y="158" width="6" height="3" fill="#7fd34e"/>
<rect x="581" y="161" width="6" height="2" fill="#1fa188"/>
<rect x="581" y="163" width="6" height="3" fill="#440154"/>
<rect x="581" y="166" width="6" height="2" fill="#440154"/>
<rect x="581" y="168" width="6" height="2" fill="#2a788e"/>
<rect x="587" y="154" width="5" height="2" fill="#f8e621"/>
<rect x="587" y="156" width="5" height="2" fill="#dae319"/>
<rect x="587" y="158" width="5" height="3" fill="#93d741"/>
<rect x="587" y="161" width="5" height="2" fill="#1fa188"/>
<rect x="587" y="163" width="5" height="3" fill="#440154"/>
<rect x="587" y="166" width="5" height="2" fill="#440154"/>
<rect x="587" y="168" width="5" height="2" fill="#2a788e"/>
<rect x="592" y="154" width="6" height="2" fill="#bade28"/>
<rect x="592" y="156" width="6" height="2" fill="#8ed645"/>
<rect x="592" y="158" width="6" height="3" fill="#1fa188"/>
<rect x="592" y="161" width="6" height="2" fill="#440154"/>
<rect x="592" y="163" width="6" height="3" fill="#440154"/>
<rect x="592" y="166" width="6" height="2" fill="#2a788e"/>
<rect x="598" y="151" width="6" height="3" fill="#f1e51d"/>
<rect x="598" y="154" width="6" height="2" fill="#c5e021"/>
<rect x="598" y="156" width="6" height="2" fill="#a0da39"/>
<rect x="598" y="158" width="6" height="3" fill="#1fa188"/>
<rect x="598" y="161" width="6" height="2" fill="#440154"/>
<rect x="598" y="163" width="6" height="3" fill="#2a788e"/>
<rect x="598" y="166" width="6" height="2" fill="#54c568"/>
<rect x="604" y="149" width="6" height="2" fill="#f4e61e"/>
<rect x="604" y="151" width="6" height="3" fill="#cae11f"/>
<rect x="604" y="154" width="6" height="2" fill="#98d83e"/>
<rect x="604" y="156" width="6" height="2" fill="#1fa188"/>
<rect x="604" y="158" width="6" height="3" fill="#440154"/>
<rect x="604" y="161" width="6" height="2" fill="#440154"/>
<rect x="604" y="163" width="6" height="3" fill="#2a788e"/>
<rect x="604" y="166" width="6" height="2" fill="#54c568"/>
<rect x="610" y="149" width="5" height="2" fill="#f8e621"/>
<rect x="610" y="151" width="5" height="3" fill="#d8e219"/>
<rect x="610" y="154" width="5" height="2" fill="#81d34d"/>
<rect x="610" y="156" width="5" height="2" fill="#1fa188"/>
<rect x="610" y="158" width="5" height="3" fill="#440154"/>
<rect x="610" y="161" width="5" height="2" fill="#440154"/>
<rect x="610" y="163" width="5" height="3" fill="#2a788e"/>
<rect x="615" y="146" width="6" height="3" fill="#fbe723"/>
<rect x="615" y="149" width="6" height="2" fill="#c5e021"/>
<rect x="615" y="151" width="6" height="3" fill="#84d44b"/>
<rect x="615" y="154" width="6" height="2" fill="#1fa188"/>
<rect x="615" y="156" width="6" height="2" fill="#440154"/>
<rect x="615" y="158" width="6" height="3" fill="#440154"/>
<rect x="615" y="161" width="6" height="2" fill="#2a788e"/>
<rect x="615" y="163" width="6" height="3" fill="#54c568"/>
<rect x="621" y="146" width="6" height="3" fill="#fbe723"/>
<rect x="621" y="149" width="6" height="2" fill="#cae11f"/>
<rect x="621" y="151" width="6" height="3" fill="#93d741"/>
<rect x="621" y="154" width="6" height="2" fill="#1fa188"/>
<rect x="621" y="156" width="6" height="2" fill="#440154"/>
<rect x="621" y="158" width="6" height="3" fill="#440154"/>
<rect x="621" y="161" width="6" height="2" fill="#2a788e"/>
<rect x="627" y="144" width="6" height="2" fill="#f8e621"/>
<rect x="627" y="146" width="6" height="3" fill="#d0e11c"/>
<rect x="627" y="149" width="6" height="2" fill="#86d549"/>
<rect x="627" y="151" width="6" height="3" fill="#1fa188"/>
<rect x="627" y="154" width="6" height="2" fill="#440154"/>
<rect x="627" y="156" width="6" height="2" fill="#440154"/>
<rect x="627" y="158" width="6" height="3" fill="#2a788e"/>
<rect x="627" y="161" width="6" height="2" fill="#54c568"/>
<rect x="633" y="142" width="5" height="2" fill="#f1e51d"/>
<rect x="633" y="144" width="5" height="2" fill="#f8e621"/>
<rect x="633" y="146" width="5" height="3" fill="#c8e020"/>
<rect x="633" y="149" width="5" height="2" fill="#8bd646"/>
<rect x="633" y="151" width="5" height="3" fill="#1fa188"/>
<rect x="633" y="154" width="5" height="2" fill="#440154"/>
<rect x="633" y="156" width="5" height="2" fill="#440154"/>
<rect x="633" y="158" width="5" height="3" fill="#2a788e"/>
<rect x="633" y="161" width="5" height="2" fill="#54c568"/>
<rect x="638" y="142" width="6" height="2" fill="#f1e51d"/>
<rect x="638" y="144" width="6" height="2" fill="#f8e621"/>
<rect x="638" y="146" width="6" height="3" fill="#d8e219"/>
<rect x="638" y="149" width="6" height="2" fill="#95d840"/>
<rect x="638" y="151" width="6" height="3" fill="#1fa188"/>
<rect x="638" y="154" width="6" height="2" fill="#440154"/>
<rect x="638" y="156" width="6" height="2" fill="#2a788e"/>
<rect x="638" y="158" width="6" height="3" fill="#54c568"/>
<rect x="644" y="142" width="6" height="2" fill="#fbe723"/>
<rect x="644" y="144" width="6" height="2" fill="#b8de29"/>
<rect x="644" y="146" width="6" height="3" fill="#84d44b"/>
<rect x="644" y="149" width="6" height="2" fill="#1fa188"/>
<rect x="644" y="151" width="6" height="3" fill="#440154"/>
<rect x="644" y="154" width="6" height="2" fill="#440154"/>
<rect x="644" y="156" width="6" height="2" fill="#2a788e"/>
<rect x="644" y="158" width="6" height="3" fill="#54c568"/>
<rect x="650" y="139" width="6" height="3" fill="#f8e621"/>
<rect x="650" y="142" width="6" height="2" fill="#f4e61e"/>
<rect x="650" y="144" width="6" height="2" fill="#bade28"/>
<rect x="650" y="146" width="6" height="3" fill="#a0da39"/>
<rect x="650" y="149" width="6" height="2" fill="#1fa188"/>
<rect x="650" y="151" width="6" height="3" fill="#440154"/>
<rect x="650" y="154" width="6" height="2" fill="#440154"/>
<rect x="650" y="156" width="6" height="2" fill="#2a788e"/>
<rect x="650" y="158" width="6" height="3" fill="#54c568"/>
<rect x="656" y="137" width="5" height="2" fill="#f8e621"/>
<rect x="656" y="139" width="5" height="3" fill="#fbe723"/>
<rect x="656" y="142" width="5" height="2" fill="#f4e61e"/>
<rect x="656" y="144" width="5" height="2" fill="#b5de2b"/>
<rect x="656" y="146" width="5" height="3" fill="#98d83e"/>
<rect x="656" y="149" width="5" height="2" fill="#1fa188"/>
<rect x="656" y="151" width="5" height="3" fill="#440154"/>
<rect x="656" y="154" width="5" height="2" fill="#440154"/>
<rect x="656" y="156" width="5" height="2" fill="#2a788e"/>
<rect x="661" y="134" width="6" height="3" fill="#f8e621"/>
<rect x="661" y="137" width="6" height="2" fill="#f8e621"/>
<rect x="661" y="139" width="6" height="3" fill="#fbe723"/>
<rect x="661" y="142" width="6" height="2" fill="#b5de2b"/>
<rect x="661" y="144" width="6" height="2" fill="#a0da39"/>
<rect x="661" y="146" width="6" height="3" fill="#1fa188"/>
<rect x="661" y="149" width="6" height="2" fill="#440154"/>
<rect x="661" y="151" width="6" height="3" fill="#440154"/>
<rect x="661" y="154" width="6" height="2" fill="#2a788e"/>
<rect x="661" y="156" width="6" height="2" fill="#54c568"/>
<rect x="667" y="132" width="6" height="2" fill="#fbe723"/>
<rect x="667" y="134" width="6" height="3" fill="#f8e621"/>
<rect x="667" y="137" width="6" height="2" fill="#f6e620"/>
<rect x="667" y="139" width="6" height="3" fill="#f1e51d"/>
<rect x="667" y="142" width="6" height="2" fill="#d5e21a"/>
<rect x="667" y="144" width="6" height="2" fill="#84d44b"/>
<rect x="667" y="146" width="6" height="3" fill="#1fa188"/>
<rect x="667" y="149" width="6" height="2" fill="#440154"/>
<rect x="667" y="151" width="6" height="3" fill="#440154"/>
<rect x="667" y="154" width="6" height="2" fill="#2a788e"/>
<rect x="667" y="156" width="6" height="2" fill="#54c568"/>
<rect x="673" y="130" width="5" height="2" fill="#f6e620"/>
<rect x="673" y="132" width="5" height="2" fill="#f6e620"/>
<rect x="673" y="134" width="5" height="3" fill="#f1e51d"/>
<rect x="673" y="137" width="5" height="2" fill="#fbe723"/>
<rect x="673" y="139" width="5" height="3" fill="#d2e21b"/>
<rect x="673" y="142" width="5" height="2" fill="#89d548"/>
<rect x="673" y="144" width="5" height="2" fill="#1fa188"/>
<rect x="673" y="146" width="5" height="3" fill="#440154"/>
<rect x="673" y="149" width="5" height="2" fill="#440154"/>
<rect x="673" y="151" width="5" height="3" fill="#2a788e"/>
<rect x="673" y="154" width="5" height="2" fill="#54c568"/>
<rect x="678" y="127" width="6" height="3" fill="#f4e61e"/>
<rect x="678" y="130" width="6" height="2" fill="#fbe723"/>
<rect x="678" y="132" width="6" height="2" fill="#f8e621"/>
<rect x="678" y="134" width="6" height="3" fill="#fbe723"/>
<rect x="678" y="137" width="6" height="2" fill="#d2e21b"/>
<rect x="678" y="139" width="6" height="3" fill="#a0da39"/>
<rect x="678" y="142" width="6" height="2" fill="#1fa188"/>
<rect x="678" y="144" width="6" height="2" fill="#440154"/>
<rect x="678" y="146" width="6" height="3" fill="#440154"/>
<rect x="678" y="149" width="6" height="2" fill="#2a788e"/>
<rect x="678" y="151" width="6" height="3" fill="#54c568"/>
<rect x="678" y="154" width="6" height="2" fill="#b2dd2d"/>
<rect x="684" y="127" width="6" height="3" fill="#f1e51d"/>
<rect x="684" y="130" width="6" height="2" fill="#fbe723"/>
<rect x="684" y="132" width="6" height="2" fill="#f1e51d"/>
<rect x="684" y="134" width="6" height="3" fill="#c2df23"/>
<rect x="684" y="137" width="6" height="2" fill="#9dd93b"/>
<rect x="684" y="139" width="6" height="3" fill="#1fa188"/>
<rect x="684" y="142" width="6" height="2" fill="#481a6c"/>
<rect x="684" y="144" width="6" height="2" fill="#481a6c"/>
<rect x="684" y="146" width="6" height="3" fill="#1fa188"/>
<rect x="684" y="149" width="6" height="2" fill="#54c568"/>
<rect x="684" y="151" width="6" height="3" fill="#d2e21b"/>
<rect x="690" y="125" width="6" height="2" fill="#f1e51d"/>
<rect x="690" y="127" width="6" height="3" fill="#f4e61e"/>
<rect x="690" y="130" width="6" height="2" fill="#f8e621"/>
<rect x="690" y="132" width="6" height="2" fill="#fbe723"/>
<rect x="690" y="134" width="6" height="3" fill="#b5de2b"/>
<rect x="690" y="137" width="6" height="2" fill="#90d743"/>
<rect x="690" y="139" width="6" height="3" fill="#1fa188"/>
<rect x="690" y="142" width="6" height="2" fill="#481a6c"/>
<rect x="690" y="144" width="6" height="2" fill="#481a6c"/>
<rect x="690" y="146" width="6" height="3" fill="#1fa188"/>
<rect x="690" y="149" width="6" height="2" fill="#54c568"/>
<rect x="690" y="151" width="6" height="3" fill="#b0dd2f"/>
<rect x="696" y="122" width="5" height="3" fill="#f4e61e"/>
<rect x="696" y="125" width="5" height="2" fill="#f8e621"/>
<rect x="696" y="127" width="5" height="3" fill="#f8e621"/>
<rect x="696" y="130" width="5" height="2" fill="#f6e620"/>
<rect x="696" y="132" width="5" height="2" fill="#dae319"/>
<rect x="696" y="134" width="5" height="3" fill="#b2dd2d"/>
<rect x="696" y="137" width="5" height="2" fill="#a0da39"/>
<rect x="696" y="139" width="5" height="3" fill="#1fa188"/>
<rect x="696" y="142" width="5" height="2" fill="#481a6c"/>
<rect x="696" y="144" width="5" height="2" fill="#481a6c"/>
<rect x="696" y="146" width="5" height="3" fill="#1fa188"/>
<rect x="696" y="149" width="5" height="2" fill="#54c568"/>
<rect x="696" y="151" width="5" height="3" fill="#c5e021"/>
<rect x="701" y="120" width="6" height="2" fill="#f4e61e"/>
<rect x="701" y="122" width="6" height="3" fill="#f4e61e"/>
<rect x="701" y="125" width="6" height="2" fill="#fbe723"/>
<rect x="701" y="127" width="6" height="3" fill="#f6e620"/>
<rect x="701" y="130" width="6" height="2" fill="#f8e621"/>
<rect x="701" y="132" width="6" height="2" fill="#bddf26"/>
<rect x="701" y="134" width="6" height="3" fill="#7cd250"/>
<rect x="701" y="137" width="6" height="2" fill="#1fa188"/>
<rect x="701" y="139" width="6" height="3" fill="#1fa188"/>
<rect x="701" y="142" width="6" height="2" fill="#481a6c"/>
<rect x="701" y="144" width="6" height="2" fill="#481a6c"/>
<rect x="701" y="146" width="6" height="3" fill="#1fa188"/>
<rect x="701" y="149" width="6" height="2" fill="#54c568"/>
<rect x="701" y="151" width="6" height="3" fill="#cde11d"/>
<rect x="707" y="120" width="6" height="2" fill="#fbe723"/>
<rect x="707" y="122" width="6" height="3" fill="#f6e620"/>
<rect x="707" y="125" width="6" height="2" fill="#f6e620"/>
<rect x="707" y="127" width="6" height="3" fill="#f4e61e"/>
<rect x="707" y="130" width="6" height="2" fill="#f6e620"/>
<rect x="707" y="132" width="6" height="2" fill="#c5e021"/>
<rect x="707" y="134" width="6" height="3" fill="#98d83e"/>
<rect x="707" y="137" width="6" height="2" fill="#1fa188"/>
<rect x="707" y="139" width="6" height="3" fill="#2a788e"/>
<rect x="707" y="142" width="6" height="2" fill="#2a788e"/>
<rect x="707" y="144" width="6" height="2" fill="#2a788e"/>
<rect x="707" y="146" width="6" height="3" fill="#1fa188"/>
<rect x="707" y="149" width="6" height="2" fill="#54c568"/>
<rect x="707" y="151" width="6" height="3" fill="#c2df23"/>
<rect x="713" y="118" width="6" height="2" fill="#f8e621"/>
<rect x="713" y="120" width="6" height="2" fill="#f6e620"/>
<rect x="713" y="122" width="6" height="3" fill="#f6e620"/>
<rect x="713" y="125" width="6" height="2" fill="#f8e621"/>
<rect x="713" y="127" width="6" height="3" fill="#f6e620"/>
<rect x="713" y="130" width="6" height="2" fill="#d2e21b"/>
<rect x="713" y="132" width="6" height="2" fill="#d2e21b"/>
<rect x="713" y="134" width="6" height="3" fill="#95d840"/>
<rect x="713" y="137" width="6" height="2" fill="#1fa188"/>
<rect x="713" y="139" width="6" height="3" fill="#2a788e"/>
<rect x="713" y="142" width="6" height="2" fill="#2a788e"/>
<rect x="713" y="144" width="6" height="2" fill="#1fa188"/>
<rect x="713" y="146" width="6" height="3" fill="#1fa188"/>
<rect x="713" y="149" width="6" height="2" fill="#54c568"/>
<rect x="719" y="118" width="5" height="2" fill="#f8e621"/>
<rect x="719" y="120" width="5" height="2" fill="#f6e620"/>
<rect x="719" y="122" width="5" height="3" fill="#f8e621"/>
<rect x="719" y="125" width="5" height="2" fill="#f4e61e"/>
<rect x="719" y="127" width="5" height="3" fill="#f6e620"/>
<rect x="719" y="130" width="5" height="2" fill="#d2e21b"/>
<rect x="719" y="132" width="5" height="2" fill="#84d44b"/>
<rect x="719" y="134" width="5" height="3" fill="#1fa188"/>
<rect x="719" y="137" width="5" height="2" fill="#1fa188"/>
<rect x="719" y="139" width="5" height="3" fill="#2a788e"/>
<rect x="719" y="142" width="5" height="2" fill="#2a788e"/>
<rect x="719" y="144" width="5" height="2" fill="#1fa188"/>
<rect x="719" y="146" width="5" height="3" fill="#54c568"/>
<rect x="719" y="149" width="5" height="2" fill="#bddf26"/>
<rect x="719" y="113" width="5" height="2" fill="#cde11d"/>
<rect x="724" y="113" width="6" height="2" fill="#fbe723"/>
<rect x="724" y="115" width="6" height="3" fill="#fbe723"/>
<rect x="724" y="118" width="6" height="2" fill="#f1e51d"/>
<rect x="724" y="120" width="6" height="2" fill="#fbe723"/>
<rect x="724" y="122" width="6" height="3" fill="#f1e51d"/>
<rect x="724" y="125" width="6" height="2" fill="#dae319"/>
<rect x="724" y="127" width="6" height="3" fill="#86d549"/>
<rect x="724" y="130" width="6" height="2" fill="#7cd250"/>
<rect x="724" y="132" width="6" height="2" fill="#1fa188"/>
<rect x="724" y="134" width="6" height="3" fill="#2a788e"/>
<rect x="724" y="137" width="6" height="2" fill="#2a788e"/>
<rect x="724" y="139" width="6" height="3" fill="#1fa188"/>
<rect x="724" y="142" width="6" height="2" fill="#1fa188"/>
<rect x="724" y="144" width="6" height="2" fill="#54c568"/>
<rect x="724" y="146" width="6" height="3" fill="#cae11f"/>
<rect x="724" y="149" width="6" height="2" fill="#f4e61e"/>
<rect x="724" y="108" width="6" height="2" fill="#f1e51d"/>
<rect x="730" y="113" width="6" height="2" fill="#f6e620"/>
<rect x="730" y="115" width="6" height="3" fill="#f8e621"/>
<rect x="730" y="118" width="6" height="2" fill="#f4e61e"/>
<rect x="730" y="120" width="6" height="2" fill="#f8e621"/>
<rect x="730" y="122" width="6" height="3" fill="#f1e51d"/>
<rect x="730" y="125" width="6" height="2" fill="#dae319"/>
<rect x="730" y="127" width="6" height="3" fill="#86d549"/>
<rect x="730" y="130" width="6" height="2" fill="#a0da39"/>
<rect x="730" y="132" width="6" height="2" fill="#1fa188"/>
<rect x="730" y="134" width="6" height="3" fill="#2a788e"/>
<rect x="730" y="137" width="6" height="2" fill="#2a788e"/>
<rect x="730" y="139" width="6" height="3" fill="#1fa188"/>
<rect x="730" y="142" width="6" height="2" fill="#1fa188"/>
<rect x="730" y="144" width="6" height="2" fill="#54c568"/>
<rect x="730" y="146" width="6" height="3" fill="#b5de2b"/>
<rect x="730" y="149" width="6" height="2" fill="#f6e620"/>
<rect x="730" y="108" width="6" height="2" fill="#f4e61e"/>
<rect x="736" y="110" width="6" height="3" fill="#f4e61e"/>
<rect x="736" y="113" width="6" height="2" fill="#fbe723"/>
<rect x="736" y="115" width="6" height="3" fill="#f8e621"/>
<rect x="736" y="118" width="6" height="2" fill="#f4e61e"/>
<rect x="736" y="120" width="6" height="2" fill="#f6e620"/>
<rect x="736" y="122" width="6" height="3" fill="#f4e61e"/>
<rect x="736" y="125" width="6" height="2" fill="#c8e020"/>
<rect x="736" y="127" width="6" height="3" fill="#95d840"/>
<rect x="736" y="130" width="6" height="2" fill="#1fa188"/>
<rect x="736" y="132" width="6" height="2" fill="#1fa188"/>
<rect x="736" y="134" width="6" height="3" fill="#2a788e"/>
<rect x="736" y="137" width="6" height="2" fill="#2a788e"/>
<rect x="736" y="139" width="6" height="3" fill="#1fa188"/>
<rect x="736" y="142" width="6" height="2" fill="#1fa188"/>
<rect x="736" y="144" width="6" height="2" fill="#54c568"/>
<rect x="736" y="146" width="6" height="3" fill="#dae319"/>
<rect x="736" y="149" width="6" height="2" fill="#d5e21a"/>
<rect x="736" y="106" width="6" height="2" fill="#fbe723"/>
<rect x="742" y="110" width="5" height="3" fill="#f8e621"/>
<rect x="742" y="113" width="5" height="2" fill="#f1e51d"/>
<rect x="742" y="115" width="5" height="3" fill="#f1e51d"/>
<rect x="742" y="118" width="5" height="2" fill="#f8e621"/>
<rect x="742" y="120" width="5" height="2" fill="#f1e51d"/>
<rect x="742" y="122" width="5" height="3" fill="#bddf26"/>
<rect x="742" y="125" width="5" height="2" fill="#b0dd2f"/>
<rect x="742" y="127" width="5" height="3" fill="#93d741"/>
<rect x="742" y="130" width="5" height="2" fill="#1fa188"/>
<rect x="742" y="132" width="5" height="2" fill="#1fa188"/>
<rect x="742" y="134" width="5" height="3" fill="#2a788e"/>
<rect x="742" y="137" width="5" height="2" fill="#2a788e"/>
<rect x="742" y="139" width="5" height="3" fill="#1fa188"/>
<rect x="742" y="142" width="5" height="2" fill="#1fa188"/>
<rect x="742" y="144" width="5" height="2" fill="#54c568"/>
<rect x="742" y="146" width="5" height="3" fill="#d0e11c"/>
<rect x="742" y="149" width="5" height="2" fill="#d5e21a"/>
<rect x="742" y="106" width="5" height="2" fill="#f8e621"/>
<rect x="747" y="106" width="6" height="2" fill="#f6e620"/>
<rect x="747" y="108" width="6" height="2" fill="#f4e61e"/>
<rect x="747" y="110" width="6" height="3" fill="#f4e61e"/>
<rect x="747" y="113" width="6" height="2" fill="#f1e51d"/>
<rect x="747" y="115" width="6" height="3" fill="#f8e621"/>
<rect x="747" y="118" width="6" height="2" fill="#f4e61e"/>
<rect x="747" y="120" width="6" height="2" fill="#f1e51d"/>
<rect x="747" y="122" width="6" height="3" fill="#b5de2b"/>
<rect x="747" y="125" width="6" height="2" fill="#95d840"/>
<rect x="747" y="127" width="6" height="3" fill="#7fd34e"/>
<rect x="747" y="130" width="6" height="2" fill="#1fa188"/>
<rect x="747" y="132" width="6" height="2" fill="#2a788e"/>
<rect x="747" y="134" width="6" height="3" fill="#2a788e"/>
<rect x="747" y="137" width="6" height="2" fill="#2a788e"/>
<rect x="747" y="139" width="6" height="3" fill="#1fa188"/>
<rect x="747" y="142" width="6" height="2" fill="#1fa188"/>
<rect x="747" y="144" width="6" height="2" fill="#54c568"/>
<rect x="747" y="146" width="6" height="3" fill="#bade28"/>
<rect x="747" y="101" width="6" height="2" fill="#cae11f"/>
<rect x="753" y="106" width="3" height="2" fill="#f8e621"/>
<rect x="753" y="108" width="3" height="2" fill="#f6e620"/>
<rect x="753" y="110" width="3" height="3" fill="#f4e61e"/>
<rect x="753" y="113" width="3" height="2" fill="#f1e51d"/>
<rect x="753" y="115" width="3" height="3" fill="#f8e621"/>
<rect x="753" y="118" width="3" height="2" fill="#f1e51d"/>
<rect x="753" y="120" width="3" height="2" fill="#fbe723"/>
<rect x="753" y="122" width="3" height="3" fill="#d8e219"/>
<rect x="753" y="125" width="3" height="2" fill="#9dd93b"/>
<rect x="753" y="127" width="3" height="3" fill="#90d743"/>
<rect x="753" y="130" width="3" height="2" fill="#1fa188"/>
<rect x="753" y="132" width="3" height="2" fill="#2a788e"/>
<rect x="753" y="134" width="3" height="3" fill="#2a788e"/>
<rect x="753" y="137" width="3" height="2" fill="#2a788e"/>
<rect x="753" y="139" width="3" height="3" fill="#1fa188"/>
<rect x="753" y="142" width="3" height="2" fill="#54c568"/>
<rect x="753" y="144" width="3" height="2" fill="#54c568"/>
<rect x="753" y="101" width="3" height="2" fill="#bade28"/>
</g>
<g stroke="#b0b0b0" stroke-width="1.1" fill="none">
<line x1="108.5" y1="60.0" x2="108.5" y2="420.0"/>
<line x1="260.5" y1="60.0" x2="260.5" y2="420.0"/>
<line x1="413.5" y1="60.0" x2="413.5" y2="420.0"/>
<line x1="565.5" y1="60.0" x2="565.5" y2="420.0"/>
<line x1="717.5" y1="60.0" x2="717.5" y2="420.0"/>
<line x1="154.5" y1="60.0" x2="154.5" y2="420.0"/>
<line x1="181.5" y1="60.0" x2="181.5" y2="420.0"/>
<line x1="200.5" y1="60.0" x2="200.5" y2="420.0"/>
<line x1="215.5" y1="60.0" x2="215.5" y2="420.0"/>
<line x1="227.5" y1="60.0" x2="227.5" y2="420.0"/>
<line x1="237.5" y1="60.0" x2="237.5" y2="420.0"/>
<line x1="246.5" y1="60.0" x2="246.5" y2="420.0"/>
<line x1="253.5" y1="60.0" x2="253.5" y2="420.0"/>
<line x1="306.5" y1="60.0" x2="306.5" y2="420.0"/>
<line x1="333.5" y1="60.0" x2="333.5" y2="420.0"/>
<line x1="352.5" y1="60.0" x2="352.5" y2="420.0"/>
<line x1="367.5" y1="60.0" x2="367.5" y2="420.0"/>
<line x1="379.5" y1="60.0" x2="379.5" y2="420.0"/>
<line x1="389.5" y1="60.0" x2="389.5" y2="420.0"/>
<line x1="398.5" y1="60.0" x2="398.5" y2="420.0"/>
<line x1="406.5" y1="60.0" x2="406.5" y2="420.0"/>
<line x1="459.5" y1="60.0" x2="459.5" y2="420.0"/>
<line x1="485.5" y1="60.0" x2="485.5" y2="420.0"/>
<line x1="504.5" y1="60.0" x2="504.5" y2="420.0"/>
<line x1="519.5" y1="60.0" x2="519.5" y2="420.0"/>
<line x1="531.5" y1="60.0" x2="531.5" y2="420.0"/>
<line x1="542.5" y1="60.0" x2="542.5" y2="420.0"/>
<line x1="550.5" y1="60.0" x2="550.5" y2="420.0"/>
<line x1="558.5" y1="60.0" x2="558.5" y2="420.0"/>
<line x1="611.5" y1="60.0" x2="611.5" y2="420.0"/>
<line x1="638.5" y1="60.0" x2="638.5" y2="420.0"/>
<line x1="657.5" y1="60.0" x2="657.5" y2="420.0"/>
<line x1="672.5" y1="60.0" x2="672.5" y2="420.0"/>
<line x1="684.5" y1="60.0" x2="684.5" y2="420.0"/>
<line x1="694.5" y1="60.0" x2="694.5" y2="420.0"/>
<line x1="703.5" y1="60.0" x2="703.5" y2="420.0"/>
<line x1="711.5" y1="60.0" x2="711.5" y2="420.0"/>
<line x1="108.0" y1="372.5" x2="756.0" y2="372.5"/>
<line x1="108.0" y1="324.5" x2="756.0" y2="324.5"/>
<line x1="108.0" y1="276.5" x2="756.0" y2="276.5"/>
<line x1="108.0" y1="228.5" x2="756.0" y2="228.5"/>
<line x1="108.0" y1="180.5" x2="756.0" y2="180.5"/>
<line x1="108.0" y1="132.5" x2="756.0" y2="132.5"/>
<line x1="108.0" y1="84.5" x2="756.0" y2="84.5"/>
</g>
<path d="M260.37 343.20 L295.48 340.08 L352.10 340.08 L397.97 346.07 L426.97 332.88 L470.67 296.75 L509.26 278.63 L519.24 278.64 L531.30 297.59 L565.10 333.00 L577.17 339.00 L594.53 329.10 L616.98 366.00 L641.24 384.01 L664.63 389.99 L693.87 390.00 L718.13 384.01 L746.05 384.00 L756.00 385.16" fill="none" stroke="#666666" stroke-width="2.78" stroke-linejoin="round" stroke-linecap="butt"/>
<path d="M260.37 159.60 L312.54 173.76 L337.34 205.21 L397.97 227.99 L501.08 175.20 L513.72 171.59 L534.53 182.40 L549.51 212.40 L593.68 227.99 L610.97 272.40 L756.00 249.53" fill="none" stroke="#666666" stroke-width="2.78" stroke-linejoin="round" stroke-linecap="butt"/>
<g stroke="#000" fill="none">
<rect x="108.5" y="60.5" width="648" height="360" stroke-width="1.11"/>
<line x1="108.5" y1="420.5" x2="108.5" y2="425.4" stroke-width="1.11"/>
<line x1="260.5" y1="420.5" x2="260.5" y2="425.4" stroke-width="1.11"/>
<line x1="413.5" y1="420.5" x2="413.5" y2="425.4" stroke-width="1.11"/>
<line x1="565.5" y1="420.5" x2="565.5" y2="425.4" stroke-width="1.11"/>
<line x1="717.5" y1="420.5" x2="717.5" y2="425.4" stroke-width="1.11"/>
<line x1="154.5" y1="420.5" x2="154.5" y2="423.3" stroke-width="0.83"/>
<line x1="181.5" y1="420.5" x2="181.5" y2="423.3" stroke-width="0.83"/>
<line x1="200.5" y1="420.5" x2="200.5" y2="423.3" stroke-width="0.83"/>
<line x1="215.5" y1="420.5" x2="215.5" y2="423.3" stroke-width="0.83"/>
<line x1="227.5" y1="420.5" x2="227.5" y2="423.3" stroke-width="0.83"/>
<line x1="237.5" y1="420.5" x2="237.5" y2="423.3" stroke-width="0.83"/>
<line x1="246.5" y1="420.5" x2="246.5" y2="423.3" stroke-width="0.83"/>
<line x1="253.5" y1="420.5" x2="253.5" y2="423.3" stroke-width="0.83"/>
<line x1="306.5" y1="420.5" x2="306.5" y2="423.3" stroke-width="0.83"/>
<line x1="333.5" y1="420.5" x2="333.5" y2="423.3" stroke-width="0.83"/>
<line x1="352.5" y1="420.5" x2="352.5" y2="423.3" stroke-width="0.83"/>
<line x1="367.5" y1="420.5" x2="367.5" y2="423.3" stroke-width="0.83"/>
<line x1="379.5" y1="420.5" x2="379.5" y2="423.3" stroke-width="0.83"/>
<line x1="389.5" y1="420.5" x2="389.5" y2="423.3" stroke-width="0.83"/>
<line x1="398.5" y1="420.5" x2="398.5" y2="423.3" stroke-width="0.83"/>
<line x1="406.5" y1="420.5" x2="406.5" y2="423.3" stroke-width="0.83"/>
<line x1="459.5" y1="420.5" x2="459.5" y2="423.3" stroke-width="0.83"/>
<line x1="485.5" y1="420.5" x2="485.5" y2="423.3" stroke-width="0.83"/>
<line x1="504.5" y1="420.5" x2="504.5" y2="423.3" stroke-width="0.83"/>
<line x1="519.5" y1="420.5" x2="519.5" y2="423.3" stroke-width="0.83"/>
<line x1="531.5" y1="420.5" x2="531.5" y2="423.3" stroke-width="0.83"/>
<line x1="542.5" y1="420.5" x2="542.5" y2="423.3" stroke-width="0.83"/>
<line x1="550.5" y1="420.5" x2="550.5" y2="423.3" stroke-width="0.83"/>
<line x1="558.5" y1="420.5" x2="558.5" y2="423.3" stroke-width="0.83"/>
<line x1="611.5" y1="420.5" x2="611.5" y2="423.3" stroke-width="0.83"/>
<line x1="638.5" y1="420.5" x2="638.5" y2="423.3" stroke-width="0.83"/>
<line x1="657.5" y1="420.5" x2="657.5" y2="423.3" stroke-width="0.83"/>
<line x1="672.5" y1="420.5" x2="672.5" y2="423.3" stroke-width="0.83"/>
<line x1="684.5" y1="420.5" x2="684.5" y2="423.3" stroke-width="0.83"/>
<line x1="694.5" y1="420.5" x2="694.5" y2="423.3" stroke-width="0.83"/>
<line x1="703.5" y1="420.5" x2="703.5" y2="423.3" stroke-width="0.83"/>
<line x1="711.5" y1="420.5" x2="711.5" y2="423.3" stroke-width="0.83"/>
<line x1="103.1" y1="420.5" x2="108.5" y2="420.5" stroke-width="1.11"/>
<line x1="103.1" y1="372.5" x2="108.5" y2="372.5" stroke-width="1.11"/>
<line x1="103.1" y1="324.5" x2="108.5" y2="324.5" stroke-width="1.11"/>
<line x1="103.1" y1="276.5" x2="108.5" y2="276.5" stroke-width="1.11"/>
<line x1="103.1" y1="228.5" x2="108.5" y2="228.5" stroke-width="1.11"/>
<line x1="103.1" y1="180.5" x2="108.5" y2="180.5" stroke-width="1.11"/>
<line x1="103.1" y1="132.5" x2="108.5" y2="132.5" stroke-width="1.11"/>
<line x1="103.1" y1="84.5" x2="108.5" y2="84.5" stroke-width="1.11"/>
</g>
<defs><linearGradient id="cb" x1="0" y1="0" x2="0" y2="1"><stop offset="0.0000" stop-color="#440154"/><stop offset="0.0156" stop-color="#450559"/><stop offset="0.0312" stop-color="#460b5e"/><stop offset="0.0469" stop-color="#471164"/><stop offset="0.0625" stop-color="#481769"/><stop offset="0.0781" stop-color="#481c6e"/><stop offset="0.0938" stop-color="#482173"/><stop offset="0.1094" stop-color="#482677"/><stop offset="0.1250" stop-color="#472c7a"/><stop offset="0.1406" stop-color="#46307e"/><stop offset="0.1562" stop-color="#453581"/><stop offset="0.1719" stop-color="#443a83"/><stop offset="0.1875" stop-color="#423f85"/><stop offset="0.2031" stop-color="#414487"/><stop offset="0.2188" stop-color="#3f4889"/><stop offset="0.2344" stop-color="#3d4d8a"/><stop offset="0.2500" stop-color="#3b518b"/><stop offset="0.2656" stop-color="#39558c"/><stop offset="0.2812" stop-color="#375a8c"/><stop offset="0.2969" stop-color="#355e8d"/><stop offset="0.3125" stop-color="#33628d"/><stop offset="0.3281" stop-color="#31668e"/><stop offset="0.3438" stop-color="#306a8e"/><stop offset="0.3594" stop-color="#2e6e8e"/><stop offset="0.3750" stop-color="#2c718e"/><stop offset="0.3906" stop-color="#2b758e"/><stop offset="0.4062" stop-color="#29798e"/><stop offset="0.4219" stop-color="#287d8e"/><stop offset="0.4375" stop-color="#26818e"/><stop offset="0.4531" stop-color="#25848e"/><stop offset="0.4688" stop-color="#23888e"/><stop offset="0.4844" stop-color="#228c8d"/><stop offset="0.5000" stop-color="#21908d"/><stop offset="0.5156" stop-color="#20938c"/><stop offset="0.5312" stop-color="#1f978b"/><stop offset="0.5469" stop-color="#1e9b8a"/><stop offset="0.5625" stop-color="#1f9f88"/><stop offset="0.5781" stop-color="#1fa287"/><stop offset="0.5938" stop-color="#21a685"/><stop offset="0.6094" stop-color="#24aa83"/><stop offset="0.6250" stop-color="#27ad81"/><stop offset="0.6406" stop-color="#2cb17e"/><stop offset="0.6562" stop-color="#31b57b"/><stop offset="0.6719" stop-color="#37b878"/><stop offset="0.6875" stop-color="#3dbc74"/><stop offset="0.7031" stop-color="#44bf70"/><stop offset="0.7188" stop-color="#4cc26c"/><stop offset="0.7344" stop-color="#54c568"/><stop offset="0.7500" stop-color="#5cc863"/><stop offset="0.7656" stop-color="#65cb5e"/><stop offset="0.7812" stop-color="#6ece58"/><stop offset="0.7969" stop-color="#77d153"/><stop offset="0.8125" stop-color="#81d34d"/><stop offset="0.8281" stop-color="#8bd646"/><stop offset="0.8438" stop-color="#95d840"/><stop offset="0.8594" stop-color="#a0da39"/><stop offset="0.8750" stop-color="#aadc32"/><stop offset="0.8906" stop-color="#b5de2b"/><stop offset="0.9062" stop-color="#c0df25"/><stop offset="0.9219" stop-color="#cae11f"/><stop offset="0.9375" stop-color="#d5e21a"/><stop offset="0.9531" stop-color="#dfe318"/><stop offset="0.9688" stop-color="#eae51a"/><stop offset="0.9844" stop-color="#f4e61e"/><stop offset="1.0000" stop-color="#fde725"/></linearGradient></defs>
<rect x="797" y="60" width="18" height="360" fill="url(#cb)"/>
<rect x="797.5" y="60.5" width="18" height="360" fill="none" stroke="#000" stroke-width="1.11"/>
<line x1="815.50" y1="420.5" x2="820.36" y2="420.5" stroke="#000" stroke-width="1.11"/>
<line x1="815.50" y1="360.5" x2="820.36" y2="360.5" stroke="#000" stroke-width="1.11"/>
<line x1="815.50" y1="300.5" x2="820.36" y2="300.5" stroke="#000" stroke-width="1.11"/>
<line x1="815.50" y1="240.5" x2="820.36" y2="240.5" stroke="#000" stroke-width="1.11"/>
<line x1="815.50" y1="180.5" x2="820.36" y2="180.5" stroke="#000" stroke-width="1.11"/>
<line x1="815.50" y1="120.5" x2="820.36" y2="120.5" stroke="#000" stroke-width="1.11"/>
<line x1="815.50" y1="60.5" x2="820.36" y2="60.5" stroke="#000" stroke-width="1.11"/>
<rect x="164.10" y="483.00" width="28.70" height="15.00" fill="#0000ff"/>
<rect x="164.10" y="474.00" width="29.60" height="9.60" fill="#008000"/>
<rect x="254.20" y="483.00" width="59.60" height="15.00" fill="#0000ff"/>
<rect x="254.20" y="474.00" width="59.60" height="9.60" fill="#008000"/>
<rect x="405.20" y="483.00" width="29.60" height="15.00" fill="#0000ff"/>
<rect x="405.20" y="474.00" width="29.60" height="9.60" fill="#008000"/>
<rect x="465.20" y="483.00" width="270.70" height="15.00" fill="#0000ff"/>
<rect x="465.20" y="474.00" width="270.70" height="9.60" fill="#008000"/>
<rect x="584.90" y="483.60" width="1" height="14.40" fill="#fff"/>
<rect x="674.90" y="483.60" width="1" height="14.40" fill="#fff"/>
<rect x="135.5" y="474.5" width="630" height="24" fill="none" stroke="#000" stroke-width="1.11"/>
<line x1="164.5" y1="498.5" x2="164.5" y2="503.4" stroke="#000" stroke-width="1.11"/>
<line x1="224.5" y1="498.5" x2="224.5" y2="503.4" stroke="#000" stroke-width="1.11"/>
<line x1="284.5" y1="498.5" x2="284.5" y2="503.4" stroke="#000" stroke-width="1.11"/>
<line x1="345.5" y1="498.5" x2="345.5" y2="503.4" stroke="#000" stroke-width="1.11"/>
<line x1="405.5" y1="498.5" x2="405.5" y2="503.4" stroke="#000" stroke-width="1.11"/>
<line x1="465.5" y1="498.5" x2="465.5" y2="503.4" stroke="#000" stroke-width="1.11"/>
<line x1="525.5" y1="498.5" x2="525.5" y2="503.4" stroke="#000" stroke-width="1.11"/>
<line x1="586.5" y1="498.5" x2="586.5" y2="503.4" stroke="#000" stroke-width="1.11"/>
<line x1="646.5" y1="498.5" x2="646.5" y2="503.4" stroke="#000" stroke-width="1.11"/>
<line x1="706.5" y1="498.5" x2="706.5" y2="503.4" stroke="#000" stroke-width="1.11"/>
<rect x="0" y="577" width="900" height="23" fill="#808080"/>
<text transform="translate(400.00,459.50) scale(1.1312,1)" x="-1.05 6.76 14.65 19.66 22.74 30.39 38.21 42.55 46.56 53.73" y="0" font-size="14.251">Period [s]</text>
<text transform="translate(95.50,440.50) scale(1.1338,1)" x="-0.38 6.82 10.14 17.15" y="0" font-size="14.000">0.01</text>
<text transform="translate(251.00,440.50) scale(1.1338,1)" x="-0.68 6.08 8.95" y="0" font-size="14.000">0.1</text>
<text transform="translate(409.00,440.50) scale(1.1338,1)" x="-0.00" y="0" font-size="14.000">1</text>
<text transform="translate(557.50,440.50) scale(1.1338,1)" x="-0.64 5.86" y="0" font-size="14.000">10</text>
<text transform="translate(705.00,440.50) scale(1.1338,1)" x="-0.27 6.96 14.20" y="0" font-size="14.000">100</text>
<text transform="translate(47.50,330.50) rotate(-90) scale(1.1000,1)" font-size="14.600"><tspan x="-0.33" y="0.00">A</tspan><tspan x="9.01" y="0.00">m</tspan><tspan x="21.07" y="0.00">p</tspan><tspan x="29.14" y="0.00">l</tspan><tspan x="32.65" y="0.00">i</tspan><tspan x="36.51" y="0.00">t</tspan><tspan x="41.02" y="0.00">u</tspan><tspan x="49.02" y="0.00">d</tspan><tspan x="56.90" y="0.00">e</tspan><tspan x="69.21" y="0.00">[</tspan><tspan x="73.95" y="0.00" font-style="italic">m</tspan><tspan x="86.56" y="-5.63" font-size="10.22">2</tspan><tspan x="92.62" y="0.00">/</tspan><tspan x="96.47" y="0.00" font-style="italic">s</tspan><tspan x="103.94" y="-5.63" font-size="10.22">4</tspan><tspan x="110.00" y="0.00">/</tspan><tspan x="113.53" y="0.00" font-style="italic">H</tspan><tspan x="123.13" y="0.00" font-style="italic">z</tspan><tspan x="130.48" y="0.00">]</tspan><tspan x="139.41" y="0.00">[</tspan><tspan x="143.93" y="0.00">d</tspan><tspan x="151.46" y="0.00">B</tspan><tspan x="160.99" y="0.00">]</tspan></text>
<text transform="translate(60.50,425.50) scale(1.1338,1)" x="0.90 9.86 17.43 25.00" y="0" font-size="14.000">−200</text>
<text transform="translate(60.50,377.50) scale(1.1338,1)" x="0.90 9.86 17.43 25.00" y="0" font-size="14.000">−180</text>
<text transform="translate(60.50,329.50) scale(1.1338,1)" x="0.90 9.86 17.43 25.00" y="0" font-size="14.000">−160</text>
<text transform="translate(60.50,281.50) scale(1.1338,1)" x="0.90 9.86 17.43 25.00" y="0" font-size="14.000">−140</text>
<text transform="translate(60.50,233.50) scale(1.1338,1)" x="0.90 9.86 17.43 25.00" y="0" font-size="14.000">−120</text>
<text transform="translate(60.50,185.50) scale(1.1338,1)" x="0.90 9.86 17.43 25.00" y="0" font-size="14.000">−100</text>
<text transform="translate(68.00,137.50) scale(1.1338,1)" x="1.04 10.25 18.04" y="0" font-size="14.000">−80</text>
<text transform="translate(68.00,89.50) scale(1.1338,1)" x="1.04 10.25 18.04" y="0" font-size="14.000">−60</text>
<text transform="translate(129.50,51.50) scale(1.1338,1)" x="-0.60 9.64 18.12 21.49 29.71 38.61 49.66 53.52 56.90 66.01 74.77 83.26 87.36 91.20 95.04 102.77 110.49 118.23 122.07 129.33 138.63 145.30 149.40 153.25 157.09 164.82 172.54 180.26 187.87 192.36 200.08 207.70 212.18 219.91 227.09 235.04 242.76 250.62 254.58 262.30 270.15 274.11 281.83 289.57 293.30 297.81 301.65 309.37 317.09 324.81 332.43 336.92 344.64 352.25 356.74 364.46 371.65 379.60 387.32 395.17 399.13 406.85 414.71 418.66 426.39 434.13 438.23 442.07 445.91 453.64 461.36 469.10 472.63 479.13 486.72 494.55 506.13 513.71 521.88 525.87" y="0" font-size="14.000">ME.BUM..HNE | 100.0Hz | 2026-03-01T00:00:06 - 2026-03-19T23:00:00 | 602 segments</text>
<text transform="translate(92.50,557.50) rotate(-30) scale(1.1338,1)" x="-0.05 7.64 15.33 23.01 30.60 35.06 42.75 50.33 54.79 62.48" y="0" font-size="14.000">2026-03-01</text>
<text transform="translate(153.50,557.00) rotate(-30) scale(1.1338,1)" x="-0.05 7.64 15.33 23.01 30.60 35.06 42.75 50.33 54.79 62.48" y="0" font-size="14.000">2026-03-03</text>
<text transform="translate(213.50,557.50) rotate(-30) scale(1.1338,1)" x="-0.05 7.64 15.33 23.01 30.60 35.06 42.75 50.33 54.79 62.48" y="0" font-size="14.000">2026-03-05</text>
<text transform="translate(273.50,557.50) rotate(-30) scale(1.1338,1)" x="-0.05 7.64 15.33 23.01 30.60 35.06 42.75 50.33 54.79 62.48" y="0" font-size="14.000">2026-03-07</text>
<text transform="translate(334.50,557.00) rotate(-30) scale(1.1338,1)" x="-0.05 7.64 15.33 23.01 30.60 35.06 42.75 50.33 54.79 62.48" y="0" font-size="14.000">2026-03-09</text>
<text transform="translate(394.50,557.50) rotate(-30) scale(1.1338,1)" x="-0.05 7.64 15.33 23.01 30.60 35.06 42.75 50.33 54.79 62.48" y="0" font-size="14.000">2026-03-11</text>
<text transform="translate(454.50,557.00) rotate(-30) scale(1.1338,1)" x="-0.05 7.64 15.33 23.01 30.60 35.06 42.75 50.33 54.79 62.48" y="0" font-size="14.000">2026-03-13</text>
<text transform="translate(515.50,557.50) rotate(-30) scale(1.1338,1)" x="-0.05 7.64 15.33 23.01 30.60 35.06 42.75 50.33 54.79 62.48" y="0" font-size="14.000">2026-03-15</text>
<text transform="translate(575.50,557.50) rotate(-30) scale(1.1338,1)" x="-0.05 7.64 15.33 23.01 30.60 35.06 42.75 50.33 54.79 62.48" y="0" font-size="14.000">2026-03-17</text>
<text transform="translate(635.50,557.00) rotate(-30) scale(1.1338,1)" x="-0.05 7.64 15.33 23.01 30.60 35.06 42.75 50.33 54.79 62.48" y="0" font-size="14.000">2026-03-19</text>
<text transform="translate(858.00,254.50) rotate(-90) scale(1.1340,1)" x="0.43 4.33 16.83" y="0" font-size="14.083">[%]</text>
<text transform="translate(829.00,425.50) scale(1.1338,1)" x="-3.11" y="0" font-size="14.000">0</text>
<text transform="translate(824.00,365.50) scale(1.1338,1)" x="-0.00" y="0" font-size="14.000">5</text>
<text transform="translate(825.50,305.50) scale(1.1338,1)" x="-0.64 5.86" y="0" font-size="14.000">10</text>
<text transform="translate(825.50,245.50) scale(1.1338,1)" x="-0.64 5.86" y="0" font-size="14.000">15</text>
<text transform="translate(824.00,185.50) scale(1.1338,1)" x="-0.00 7.79" y="0" font-size="14.000">20</text>
<text transform="translate(824.00,125.50) scale(1.1338,1)" x="-0.00 7.79" y="0" font-size="14.000">25</text>
<text transform="translate(825.50,65.50) scale(1.1338,1)" x="-0.69 5.73" y="0" font-size="14.000">30</text>
<text transform="translate(10.00,594.50) scale(1.1303,1)" x="-0.71 9.35 16.98 24.62 32.46 37.16 45.25 49.46 57.11 64.88 68.76 76.65 83.77 86.87 95.29 102.81 110.45 117.25 124.82 133.02 142.78 146.52 154.14 161.90 165.79 173.57 181.35 189.13 196.79 201.33 209.11 216.77 221.30 229.08 236.86 240.99 244.87 247.97 257.15 264.94 268.05 274.90 282.81 285.92 294.01 298.50 301.60 309.22 316.67 323.36 327.23 334.98 342.75 350.37 358.47 362.68 370.32 378.10 381.83 389.45 397.22 401.10 408.88 416.66 424.44 432.10 436.64 444.42 452.08 456.61 464.39" y="0" font-size="14.000" style="fill:#ffffff">Generated by SeedPSD on 2026-03-22 | Calculations updated on 2026-03-20</text>
</svg></body></html>
